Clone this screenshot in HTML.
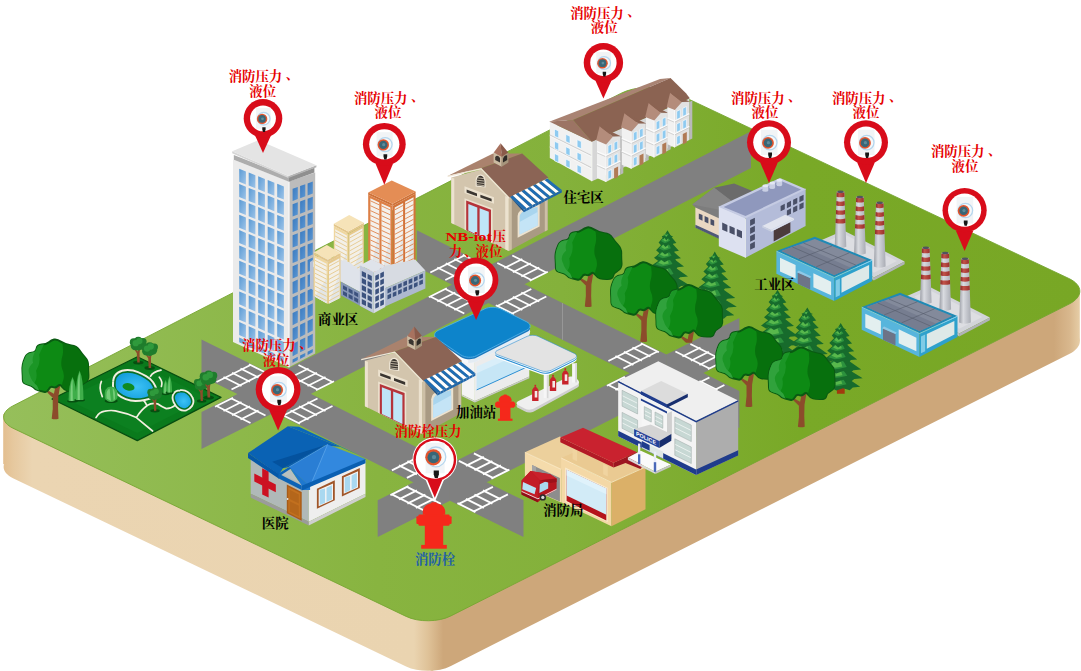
<!DOCTYPE html>
<html><head><meta charset="utf-8"><title>Fire IoT map</title>
<style>html,body{margin:0;padding:0;background:#fff;overflow:hidden}svg{display:block}text{font-family:"Liberation Mono",monospace}text.lb{font-family:"Liberation Serif","Noto Serif CJK SC",serif;font-weight:bold;font-size:13.4px}</style>
</head><body>
<svg width="1081" height="671" viewBox="0 0 1081 671">
<defs>
<linearGradient id="gtop" gradientUnits="userSpaceOnUse" x1="0" y1="0" x2="1081" y2="0">
<stop offset="0" stop-color="#96bf5b"/><stop offset="0.35" stop-color="#88b440"/><stop offset="0.52" stop-color="#84b13b"/><stop offset="0.74" stop-color="#79a927"/><stop offset="1" stop-color="#78a725"/></linearGradient>
<linearGradient id="gside" gradientUnits="userSpaceOnUse" x1="0" y1="0" x2="1081" y2="0">
<stop offset="0" stop-color="#e2bb8a"/><stop offset="0.012" stop-color="#e6c89e"/><stop offset="0.03" stop-color="#ebd5b2"/>
<stop offset="0.383" stop-color="#ead4b0"/><stop offset="0.396" stop-color="#dfc298"/><stop offset="0.41" stop-color="#cda77a"/>
<stop offset="0.975" stop-color="#cda77a"/><stop offset="0.99" stop-color="#d9b88e"/><stop offset="1" stop-color="#e8d0aa"/></linearGradient>
<radialGradient id="pondg" cx="0.55" cy="0.55" r="0.6"><stop offset="0" stop-color="#3cc2f6"/><stop offset="1" stop-color="#149fdc"/></radialGradient>
<clipPath id="crownclip"><path d="M-0.9 -79.2 Q1.9 -79.8 6.2 -76.9 Q10.6 -74.0 16.1 -73.3 Q21.6 -72.6 24.0 -68.9 Q26.3 -65.3 29.7 -61.7 Q33.1 -58.1 33.0 -53.2 Q32.9 -48.3 33.3 -43.4 Q33.7 -38.5 29.6 -36.1 Q25.4 -33.8 24.9 -30.8 Q24.4 -27.8 19.4 -27.7 Q14.4 -27.6 11.8 -28.4 Q9.3 -29.1 7.1 -32.0 Q4.9 -35.0 2.7 -32.8 Q0.6 -30.6 -2.1 -31.7 Q-4.7 -32.8 -6.4 -29.5 Q-8.2 -26.3 -10.3 -26.8 Q-12.4 -27.3 -16.1 -28.2 Q-19.7 -29.0 -21.2 -31.2 Q-22.8 -33.3 -27.5 -34.3 Q-32.3 -35.2 -32.3 -39.2 Q-32.3 -43.2 -32.6 -47.2 Q-32.9 -51.1 -32.3 -54.2 Q-31.7 -57.3 -29.9 -61.4 Q-28.2 -65.4 -23.6 -66.0 Q-19.0 -66.5 -18.5 -70.2 Q-18.1 -73.9 -13.4 -74.3 Q-8.7 -74.6 -6.2 -76.6 Q-3.7 -78.6 -0.9 -79.2 Z"/></clipPath>
<g id="crown"><path d="M-0.9 -79.2 Q1.9 -79.8 6.2 -76.9 Q10.6 -74.0 16.1 -73.3 Q21.6 -72.6 24.0 -68.9 Q26.3 -65.3 29.7 -61.7 Q33.1 -58.1 33.0 -53.2 Q32.9 -48.3 33.3 -43.4 Q33.7 -38.5 29.6 -36.1 Q25.4 -33.8 24.9 -30.8 Q24.4 -27.8 19.4 -27.7 Q14.4 -27.6 11.8 -28.4 Q9.3 -29.1 7.1 -32.0 Q4.9 -35.0 2.7 -32.8 Q0.6 -30.6 -2.1 -31.7 Q-4.7 -32.8 -6.4 -29.5 Q-8.2 -26.3 -10.3 -26.8 Q-12.4 -27.3 -16.1 -28.2 Q-19.7 -29.0 -21.2 -31.2 Q-22.8 -33.3 -27.5 -34.3 Q-32.3 -35.2 -32.3 -39.2 Q-32.3 -43.2 -32.6 -47.2 Q-32.9 -51.1 -32.3 -54.2 Q-31.7 -57.3 -29.9 -61.4 Q-28.2 -65.4 -23.6 -66.0 Q-19.0 -66.5 -18.5 -70.2 Q-18.1 -73.9 -13.4 -74.3 Q-8.7 -74.6 -6.2 -76.6 Q-3.7 -78.6 -0.9 -79.2 Z" fill="#0d8a14" stroke="#0a5a12" stroke-width="2" stroke-linejoin="round"/><g clip-path="url(#crownclip)"><path d="M-40 -85 L-7 -85 Q-12 -72 -16 -64 Q-14 -56 -19 -48 Q-17 -40 -22 -34 L-24 -20 L-40 -20 Z" fill="#1b9626"/><path d="M-40 -85 L-18 -70 Q-24 -62 -22 -56 Q-29 -50 -25 -43 Q-24 -38 -18 -33 L-14 -24 L-40 -20 Z" fill="#30a23c"/><path d="M40 -85 L5 -85 Q9 -72 7.6 -64 Q5 -56 7 -50 Q10 -44 8 -38 Q6 -34 7 -20 L40 -20 Z" fill="#07700d"/></g></g>
<linearGradient id="twl" x1="0" y1="0" x2="1" y2="1"><stop offset="0" stop-color="#5a9ad4"/><stop offset="1" stop-color="#9fc5e9"/></linearGradient>
<linearGradient id="twr" x1="0" y1="0" x2="1" y2="1"><stop offset="0" stop-color="#3a7abf"/><stop offset="1" stop-color="#5c97d3"/></linearGradient>
<linearGradient id="chg" x1="0" y1="0" x2="1" y2="0"><stop offset="0" stop-color="#9b9ea6"/><stop offset="0.35" stop-color="#d9dbe0"/><stop offset="1" stop-color="#a9acb4"/></linearGradient>
<linearGradient id="chr" x1="0" y1="0" x2="1" y2="0"><stop offset="0" stop-color="#8c2a26"/><stop offset="0.35" stop-color="#c2534a"/><stop offset="1" stop-color="#9a302b"/></linearGradient>
</defs>
<path d="M13.0 478.2 C0.6 472.2 0.5 462.3 12.7 456.0 L620.8 143.4 C635.6 135.8 659.6 135.4 674.6 142.5 L1068.9 328.5 C1083.4 335.4 1083.5 346.7 1069.2 354.0 L450.9 665.9 C438.6 672.2 418.5 672.4 406.1 666.4 Z" fill="url(#gside)"/>
<polygon points="3.2,414 3.2,464.0 432,671.0 1079.8,341.0 1079.8,291" fill="url(#gside)"/>
<path d="M13.0 428.2 C0.6 422.2 0.5 412.3 12.7 406.0 L620.8 93.4 C635.6 85.8 659.6 85.4 674.6 92.5 L1068.9 278.5 C1083.4 285.4 1083.5 296.7 1069.2 304.0 L450.9 615.9 C438.6 622.2 418.5 622.4 406.1 616.4 Z" fill="url(#gtop)" stroke="#76a632" stroke-width="0.9"/>
<polygon points="201.5,339.5 274.5,375.6 274.5,412.4 201.5,376.3" fill="#808080" />
<polygon points="201.5,412.1 274.5,375.6 274.5,412.4 201.5,448.9" fill="#808080" />
<polygon points="274.5,375.6 488.3,266.1 488.3,302.9 274.5,412.4" fill="#808080" />
<polygon points="274.5,375.6 449.9,464.0 449.9,500.8 274.5,412.4" fill="#808080" />
<polygon points="377.7,500.3 449.9,464.0 449.9,500.8 377.7,537.1" fill="#808080" />
<polygon points="449.9,464.0 523.5,500.3 523.5,537.1 449.9,500.8" fill="#808080" />
<polygon points="449.9,464.0 666.4,354.6 666.4,391.4 449.9,500.8" fill="#808080" />
<polygon points="416.9,230.2 488.3,266.1 488.3,302.9 416.9,267.0" fill="#808080" />
<polygon points="488.3,266.1 751.0,131.2 751.0,168.0 488.3,302.9" fill="#808080" />
<polygon points="488.3,266.1 666.4,354.6 666.4,391.4 488.3,302.9" fill="#808080" />
<polygon points="666.4,354.6 739.4,318.1 739.4,354.9 666.4,391.4" fill="#808080" />
<polygon points="666.4,354.6 739.4,391.1 739.4,427.9 666.4,391.4" fill="#808080" />
<polyline points="562.5,303.0 562.5,339.8" fill="none" stroke="#9a9a9a" stroke-width="0.9" />
<polyline points="283.5,372.5 317.5,389.5" fill="none" stroke="#ffffff" stroke-width="1.8" />
<polyline points="298.5,365.0 332.5,382.0" fill="none" stroke="#ffffff" stroke-width="1.8" />
<polyline points="290.5,377.5 308.5,368.5" fill="none" stroke="#ffffff" stroke-width="1.8" />
<polyline points="299.0,381.8 317.0,372.8" fill="none" stroke="#ffffff" stroke-width="1.8" />
<polyline points="307.5,386.0 325.5,377.0" fill="none" stroke="#ffffff" stroke-width="1.8" />
<polyline points="316.0,390.2 334.0,381.2" fill="none" stroke="#ffffff" stroke-width="1.8" />
<polyline points="283.5,415.5 317.5,398.5" fill="none" stroke="#ffffff" stroke-width="1.8" />
<polyline points="298.5,423.0 332.5,406.0" fill="none" stroke="#ffffff" stroke-width="1.8" />
<polyline points="282.0,414.8 300.0,423.8" fill="none" stroke="#ffffff" stroke-width="1.8" />
<polyline points="290.5,410.5 308.5,419.5" fill="none" stroke="#ffffff" stroke-width="1.8" />
<polyline points="299.0,406.2 317.0,415.2" fill="none" stroke="#ffffff" stroke-width="1.8" />
<polyline points="307.5,402.0 325.5,411.0" fill="none" stroke="#ffffff" stroke-width="1.8" />
<polyline points="231.5,389.5 265.5,372.5" fill="none" stroke="#ffffff" stroke-width="1.8" />
<polyline points="216.5,382.0 250.5,365.0" fill="none" stroke="#ffffff" stroke-width="1.8" />
<polyline points="241.5,386.0 223.5,377.0" fill="none" stroke="#ffffff" stroke-width="1.8" />
<polyline points="250.0,381.8 232.0,372.8" fill="none" stroke="#ffffff" stroke-width="1.8" />
<polyline points="258.5,377.5 240.5,368.5" fill="none" stroke="#ffffff" stroke-width="1.8" />
<polyline points="267.0,373.2 249.0,364.2" fill="none" stroke="#ffffff" stroke-width="1.8" />
<polyline points="231.5,398.5 265.5,415.5" fill="none" stroke="#ffffff" stroke-width="1.8" />
<polyline points="216.5,406.0 250.5,423.0" fill="none" stroke="#ffffff" stroke-width="1.8" />
<polyline points="233.0,397.8 215.0,406.8" fill="none" stroke="#ffffff" stroke-width="1.8" />
<polyline points="241.5,402.0 223.5,411.0" fill="none" stroke="#ffffff" stroke-width="1.8" />
<polyline points="250.0,406.2 232.0,415.2" fill="none" stroke="#ffffff" stroke-width="1.8" />
<polyline points="258.5,410.5 240.5,419.5" fill="none" stroke="#ffffff" stroke-width="1.8" />
<polyline points="458.9,460.9 492.9,477.9" fill="none" stroke="#ffffff" stroke-width="1.8" />
<polyline points="473.9,453.4 507.9,470.4" fill="none" stroke="#ffffff" stroke-width="1.8" />
<polyline points="465.9,465.9 483.9,456.9" fill="none" stroke="#ffffff" stroke-width="1.8" />
<polyline points="474.4,470.1 492.4,461.1" fill="none" stroke="#ffffff" stroke-width="1.8" />
<polyline points="482.9,474.4 500.9,465.4" fill="none" stroke="#ffffff" stroke-width="1.8" />
<polyline points="491.4,478.6 509.4,469.6" fill="none" stroke="#ffffff" stroke-width="1.8" />
<polyline points="458.9,503.9 492.9,486.9" fill="none" stroke="#ffffff" stroke-width="1.8" />
<polyline points="473.9,511.4 507.9,494.4" fill="none" stroke="#ffffff" stroke-width="1.8" />
<polyline points="457.4,503.1 475.4,512.1" fill="none" stroke="#ffffff" stroke-width="1.8" />
<polyline points="465.9,498.9 483.9,507.9" fill="none" stroke="#ffffff" stroke-width="1.8" />
<polyline points="474.4,494.6 492.4,503.6" fill="none" stroke="#ffffff" stroke-width="1.8" />
<polyline points="482.9,490.4 500.9,499.4" fill="none" stroke="#ffffff" stroke-width="1.8" />
<polyline points="406.9,477.9 440.9,460.9" fill="none" stroke="#ffffff" stroke-width="1.8" />
<polyline points="391.9,470.4 425.9,453.4" fill="none" stroke="#ffffff" stroke-width="1.8" />
<polyline points="416.9,474.4 398.9,465.4" fill="none" stroke="#ffffff" stroke-width="1.8" />
<polyline points="425.4,470.1 407.4,461.1" fill="none" stroke="#ffffff" stroke-width="1.8" />
<polyline points="433.9,465.9 415.9,456.9" fill="none" stroke="#ffffff" stroke-width="1.8" />
<polyline points="442.4,461.6 424.4,452.6" fill="none" stroke="#ffffff" stroke-width="1.8" />
<polyline points="406.9,486.9 440.9,503.9" fill="none" stroke="#ffffff" stroke-width="1.8" />
<polyline points="391.9,494.4 425.9,511.4" fill="none" stroke="#ffffff" stroke-width="1.8" />
<polyline points="408.4,486.1 390.4,495.1" fill="none" stroke="#ffffff" stroke-width="1.8" />
<polyline points="416.9,490.4 398.9,499.4" fill="none" stroke="#ffffff" stroke-width="1.8" />
<polyline points="425.4,494.6 407.4,503.6" fill="none" stroke="#ffffff" stroke-width="1.8" />
<polyline points="433.9,498.9 415.9,507.9" fill="none" stroke="#ffffff" stroke-width="1.8" />
<polyline points="497.3,263.0 531.3,280.0" fill="none" stroke="#ffffff" stroke-width="1.8" />
<polyline points="512.3,255.5 546.3,272.5" fill="none" stroke="#ffffff" stroke-width="1.8" />
<polyline points="504.3,268.0 522.3,259.0" fill="none" stroke="#ffffff" stroke-width="1.8" />
<polyline points="512.8,272.2 530.8,263.2" fill="none" stroke="#ffffff" stroke-width="1.8" />
<polyline points="521.3,276.5 539.3,267.5" fill="none" stroke="#ffffff" stroke-width="1.8" />
<polyline points="529.8,280.8 547.8,271.8" fill="none" stroke="#ffffff" stroke-width="1.8" />
<polyline points="497.3,306.0 531.3,289.0" fill="none" stroke="#ffffff" stroke-width="1.8" />
<polyline points="512.3,313.5 546.3,296.5" fill="none" stroke="#ffffff" stroke-width="1.8" />
<polyline points="495.8,305.2 513.8,314.2" fill="none" stroke="#ffffff" stroke-width="1.8" />
<polyline points="504.3,301.0 522.3,310.0" fill="none" stroke="#ffffff" stroke-width="1.8" />
<polyline points="512.8,296.8 530.8,305.8" fill="none" stroke="#ffffff" stroke-width="1.8" />
<polyline points="521.3,292.5 539.3,301.5" fill="none" stroke="#ffffff" stroke-width="1.8" />
<polyline points="445.3,280.0 479.3,263.0" fill="none" stroke="#ffffff" stroke-width="1.8" />
<polyline points="430.3,272.5 464.3,255.5" fill="none" stroke="#ffffff" stroke-width="1.8" />
<polyline points="455.3,276.5 437.3,267.5" fill="none" stroke="#ffffff" stroke-width="1.8" />
<polyline points="463.8,272.2 445.8,263.2" fill="none" stroke="#ffffff" stroke-width="1.8" />
<polyline points="472.3,268.0 454.3,259.0" fill="none" stroke="#ffffff" stroke-width="1.8" />
<polyline points="480.8,263.8 462.8,254.8" fill="none" stroke="#ffffff" stroke-width="1.8" />
<polyline points="445.3,289.0 479.3,306.0" fill="none" stroke="#ffffff" stroke-width="1.8" />
<polyline points="430.3,296.5 464.3,313.5" fill="none" stroke="#ffffff" stroke-width="1.8" />
<polyline points="446.8,288.2 428.8,297.2" fill="none" stroke="#ffffff" stroke-width="1.8" />
<polyline points="455.3,292.5 437.3,301.5" fill="none" stroke="#ffffff" stroke-width="1.8" />
<polyline points="463.8,296.8 445.8,305.8" fill="none" stroke="#ffffff" stroke-width="1.8" />
<polyline points="472.3,301.0 454.3,310.0" fill="none" stroke="#ffffff" stroke-width="1.8" />
<polyline points="675.4,351.5 709.4,368.5" fill="none" stroke="#ffffff" stroke-width="1.8" />
<polyline points="690.4,344.0 724.4,361.0" fill="none" stroke="#ffffff" stroke-width="1.8" />
<polyline points="682.4,356.5 700.4,347.5" fill="none" stroke="#ffffff" stroke-width="1.8" />
<polyline points="690.9,360.8 708.9,351.8" fill="none" stroke="#ffffff" stroke-width="1.8" />
<polyline points="699.4,365.0 717.4,356.0" fill="none" stroke="#ffffff" stroke-width="1.8" />
<polyline points="707.9,369.2 725.9,360.2" fill="none" stroke="#ffffff" stroke-width="1.8" />
<polyline points="675.4,394.5 709.4,377.5" fill="none" stroke="#ffffff" stroke-width="1.8" />
<polyline points="690.4,402.0 724.4,385.0" fill="none" stroke="#ffffff" stroke-width="1.8" />
<polyline points="673.9,393.8 691.9,402.8" fill="none" stroke="#ffffff" stroke-width="1.8" />
<polyline points="682.4,389.5 700.4,398.5" fill="none" stroke="#ffffff" stroke-width="1.8" />
<polyline points="690.9,385.2 708.9,394.2" fill="none" stroke="#ffffff" stroke-width="1.8" />
<polyline points="699.4,381.0 717.4,390.0" fill="none" stroke="#ffffff" stroke-width="1.8" />
<polyline points="623.4,368.5 657.4,351.5" fill="none" stroke="#ffffff" stroke-width="1.8" />
<polyline points="608.4,361.0 642.4,344.0" fill="none" stroke="#ffffff" stroke-width="1.8" />
<polyline points="633.4,365.0 615.4,356.0" fill="none" stroke="#ffffff" stroke-width="1.8" />
<polyline points="641.9,360.8 623.9,351.8" fill="none" stroke="#ffffff" stroke-width="1.8" />
<polyline points="650.4,356.5 632.4,347.5" fill="none" stroke="#ffffff" stroke-width="1.8" />
<polyline points="658.9,352.2 640.9,343.2" fill="none" stroke="#ffffff" stroke-width="1.8" />
<polyline points="623.4,377.5 657.4,394.5" fill="none" stroke="#ffffff" stroke-width="1.8" />
<polyline points="608.4,385.0 642.4,402.0" fill="none" stroke="#ffffff" stroke-width="1.8" />
<polyline points="624.9,376.8 606.9,385.8" fill="none" stroke="#ffffff" stroke-width="1.8" />
<polyline points="633.4,381.0 615.4,390.0" fill="none" stroke="#ffffff" stroke-width="1.8" />
<polyline points="641.9,385.2 623.9,394.2" fill="none" stroke="#ffffff" stroke-width="1.8" />
<polyline points="650.4,389.5 632.4,398.5" fill="none" stroke="#ffffff" stroke-width="1.8" />
<polygon points="52.0,399.0 137.4,356.8 221.0,397.4 137.3,440.6" fill="#0a7a1c" stroke="#064d10" stroke-width="1.2" stroke-linejoin="round" />
<polygon points="66.0,399.0 137.4,364.0 207.0,397.4 137.3,433.0" fill="#0c8020" />
<clipPath id="parkclip"><polygon points="52.0,399.0 137.4,356.8 221.0,397.4 137.3,440.6"/></clipPath>
<g clip-path="url(#parkclip)">
<path d="M96 417.6 Q99 412 104.8 411.2 Q110 410 115.3 410.8 Q127 413 136.4 417.6 L152.6 431 M136.4 417.6 Q141 410 147 405.8 Q146 403 143.4 400.2 M147 405.4 Q152 402.6 157.5 403.8 Q162 407 166.3 408.6 Q171 408.6 175.1 405.3 M101.4 381.4 Q98.4 387.7 102.3 396.7 M150.5 376.3 Q153 372 161 370.2 M159.3 377.2 Q163 381.6 161.4 386.5" stroke="#f3efe0" stroke-width="1.7" fill="none" stroke-linecap="round"/>
</g>
<path d="M116.2 388.2 Q115.3 386.0 115.8 381.6 Q116.2 377.2 119.2 375.0 Q122.3 372.8 127.6 372.8 Q132.9 372.8 136.9 374.6 Q140.8 376.3 144.8 378.5 Q148.7 380.7 150.9 383.8 Q153.1 386.9 153.6 389.9 Q154.0 393.0 151.3 394.8 Q148.7 396.5 144.3 397.4 Q139.9 398.3 135.5 398.3 Q131.1 398.3 126.7 396.6 Q122.3 394.8 119.7 392.6 Q117.1 390.4 116.2 388.2 Z" fill="#f3efe0" stroke="#f3efe0" stroke-width="7.4" stroke-linejoin="round"/>
<path d="M116.2 388.2 Q115.3 386.0 115.8 381.6 Q116.2 377.2 119.2 375.0 Q122.3 372.8 127.6 372.8 Q132.9 372.8 136.9 374.6 Q140.8 376.3 144.8 378.5 Q148.7 380.7 150.9 383.8 Q153.1 386.9 153.6 389.9 Q154.0 393.0 151.3 394.8 Q148.7 396.5 144.3 397.4 Q139.9 398.3 135.5 398.3 Q131.1 398.3 126.7 396.6 Q122.3 394.8 119.7 392.6 Q117.1 390.4 116.2 388.2 Z" fill="url(#pondg)" stroke="#0a6f24" stroke-width="3.4" stroke-linejoin="round"/>
<path d="M116.2 388.2 Q115.3 386.0 115.8 381.6 Q116.2 377.2 119.2 375.0 Q122.3 372.8 127.6 372.8 Q132.9 372.8 136.9 374.6 Q140.8 376.3 144.8 378.5 Q148.7 380.7 150.9 383.8 Q153.1 386.9 153.6 389.9 Q154.0 393.0 151.3 394.8 Q148.7 396.5 144.3 397.4 Q139.9 398.3 135.5 398.3 Q131.1 398.3 126.7 396.6 Q122.3 394.8 119.7 392.6 Q117.1 390.4 116.2 388.2 Z" fill="url(#pondg)"/>
<ellipse cx="128.5" cy="386.9" rx="6.1" ry="3.7" fill="#0f8a22" transform="rotate(12 128.5 386.9)"/>
<path d="M175.9 401.4 Q174.2 397.4 175.5 395.2 Q176.8 393.0 180.4 392.6 Q183.9 392.1 186.5 393.9 Q189.1 395.6 190.4 398.7 Q191.8 401.8 190.1 404.5 Q188.3 407.1 185.7 408.0 Q183.0 408.8 180.3 407.1 Q177.7 405.3 175.9 401.4 Z" fill="#f3efe0" stroke="#f3efe0" stroke-width="6.6" stroke-linejoin="round"/>
<path d="M175.9 401.4 Q174.2 397.4 175.5 395.2 Q176.8 393.0 180.4 392.6 Q183.9 392.1 186.5 393.9 Q189.1 395.6 190.4 398.7 Q191.8 401.8 190.1 404.5 Q188.3 407.1 185.7 408.0 Q183.0 408.8 180.3 407.1 Q177.7 405.3 175.9 401.4 Z" fill="url(#pondg)" stroke="#0a6f24" stroke-width="3" stroke-linejoin="round"/>
<path d="M175.9 401.4 Q174.2 397.4 175.5 395.2 Q176.8 393.0 180.4 392.6 Q183.9 392.1 186.5 393.9 Q189.1 395.6 190.4 398.7 Q191.8 401.8 190.1 404.5 Q188.3 407.1 185.7 408.0 Q183.0 408.8 180.3 407.1 Q177.7 405.3 175.9 401.4 Z" fill="url(#pondg)"/>
<g transform="translate(55.1 418.8) scale(1.000)">
<path d="M-3.4 0 Q-1.8 -10 -2.4 -21 L-7.8 -26.4 L-6.6 -28 L-1.2 -25 L1.2 -36 L5.6 -36 L3.2 -22 Q2.6 -10 3.4 0 Q0 1 -3.4 0 Z" fill="#8c4c2b"/>
<use href="#crown"/>
</g>
<ellipse cx="72.5" cy="401.0" rx="5.4" ry="1.6" fill="#064f10"/>
<path d="M68.6 401.0 Q68.6 384.2 72.5 377.0 Q76.4 384.2 76.4 401.0 Z" fill="#3fae4a"/>
<path d="M70.5 401.0 Q70.2 384.2 72.5 378.5 L72.8 401.0 Z" fill="#79cf7c"/>
<ellipse cx="79.6" cy="400.0" rx="5.4" ry="1.6" fill="#064f10"/>
<path d="M75.7 400.0 Q75.7 379.4 79.6 370.5 Q83.5 379.4 83.5 400.0 Z" fill="#3fae4a"/>
<path d="M77.6 400.0 Q77.3 379.4 79.6 372.0 L79.9 400.0 Z" fill="#79cf7c"/>
<ellipse cx="165.6" cy="393.6" rx="4.0" ry="1.6" fill="#064f10"/>
<path d="M163.1 393.6 Q163.1 384.2 165.6 380.1 Q168.1 384.2 168.1 393.6 Z" fill="#3fae4a"/>
<path d="M164.3 393.6 Q164.1 384.2 165.6 381.6 L165.9 393.6 Z" fill="#79cf7c"/>
<ellipse cx="169.6" cy="392.6" rx="4.0" ry="1.6" fill="#064f10"/>
<path d="M167.1 392.6 Q167.1 381.1 169.6 376.1 Q172.1 381.1 172.1 392.6 Z" fill="#3fae4a"/>
<path d="M168.3 392.6 Q168.1 381.1 169.6 377.6 L169.9 392.6 Z" fill="#79cf7c"/>
<ellipse cx="111.2" cy="401" rx="6.6" ry="2" fill="#064f10"/>
<path d="M104.8 398 Q103.6 387 111 386.6 Q118.6 387 117.4 398 Q115 402 111 402 Q107 402 104.8 398 Z" fill="#3fae4a"/>
<path d="M106.6 398.6 Q105.6 390 109.6 388.4 L111 401 Z M112.6 388 Q115.6 390 115 399 L113.6 400.6 Z" fill="#74cc78"/>
<g transform="translate(138.3 362.6) scale(1.05)">
<ellipse cx="0" cy="0" rx="5" ry="1.8" fill="#064f10"/>
<path d="M-1 0 L-1.4 -9 L-4 -13 L-3 -13.6 L-0.6 -10.6 L0.6 -14 L1.8 -14 L1.2 -9 L1.4 0 Z" fill="#8c4c2b"/>
<circle cx="-3.0" cy="-16.0" r="4.2" fill="#1f7d2c"/>
<circle cx="2.5" cy="-17.0" r="4.6" fill="#1f7d2c"/>
<circle cx="0.0" cy="-20.0" r="4.6" fill="#1f7d2c"/>
<circle cx="-4.5" cy="-19.5" r="3.6" fill="#1f7d2c"/>
<circle cx="4.5" cy="-20.0" r="3.4" fill="#1f7d2c"/>
<circle cx="0.0" cy="-15.0" r="3.5" fill="#1f7d2c"/>
<circle cx="-2.5" cy="-18.5" r="3.0" fill="#2f9a3c"/>
<circle cx="1.0" cy="-20.5" r="3.0" fill="#2f9a3c"/>
</g>
<g transform="translate(149.7 368.0) scale(1.05)">
<ellipse cx="0" cy="0" rx="5" ry="1.8" fill="#064f10"/>
<path d="M-1 0 L-1.4 -9 L-4 -13 L-3 -13.6 L-0.6 -10.6 L0.6 -14 L1.8 -14 L1.2 -9 L1.4 0 Z" fill="#8c4c2b"/>
<circle cx="-3.0" cy="-16.0" r="4.2" fill="#1f7d2c"/>
<circle cx="2.5" cy="-17.0" r="4.6" fill="#1f7d2c"/>
<circle cx="0.0" cy="-20.0" r="4.6" fill="#1f7d2c"/>
<circle cx="-4.5" cy="-19.5" r="3.6" fill="#1f7d2c"/>
<circle cx="4.5" cy="-20.0" r="3.4" fill="#1f7d2c"/>
<circle cx="0.0" cy="-15.0" r="3.5" fill="#1f7d2c"/>
<circle cx="-2.5" cy="-18.5" r="3.0" fill="#2f9a3c"/>
<circle cx="1.0" cy="-20.5" r="3.0" fill="#2f9a3c"/>
</g>
<g transform="translate(155.0 410.8) scale(0.95)">
<ellipse cx="0" cy="0" rx="5" ry="1.8" fill="#064f10"/>
<path d="M-1 0 L-1.4 -9 L-4 -13 L-3 -13.6 L-0.6 -10.6 L0.6 -14 L1.8 -14 L1.2 -9 L1.4 0 Z" fill="#8c4c2b"/>
<circle cx="-3.0" cy="-16.0" r="4.2" fill="#1f7d2c"/>
<circle cx="2.5" cy="-17.0" r="4.6" fill="#1f7d2c"/>
<circle cx="0.0" cy="-20.0" r="4.6" fill="#1f7d2c"/>
<circle cx="-4.5" cy="-19.5" r="3.6" fill="#1f7d2c"/>
<circle cx="4.5" cy="-20.0" r="3.4" fill="#1f7d2c"/>
<circle cx="0.0" cy="-15.0" r="3.5" fill="#1f7d2c"/>
<circle cx="-2.5" cy="-18.5" r="3.0" fill="#2f9a3c"/>
<circle cx="1.0" cy="-20.5" r="3.0" fill="#2f9a3c"/>
</g>
<g transform="translate(201.6 401.0) scale(0.95)">
<ellipse cx="0" cy="0" rx="5" ry="1.8" fill="#064f10"/>
<path d="M-1 0 L-1.4 -9 L-4 -13 L-3 -13.6 L-0.6 -10.6 L0.6 -14 L1.8 -14 L1.2 -9 L1.4 0 Z" fill="#8c4c2b"/>
<circle cx="-3.0" cy="-16.0" r="4.2" fill="#1f7d2c"/>
<circle cx="2.5" cy="-17.0" r="4.6" fill="#1f7d2c"/>
<circle cx="0.0" cy="-20.0" r="4.6" fill="#1f7d2c"/>
<circle cx="-4.5" cy="-19.5" r="3.6" fill="#1f7d2c"/>
<circle cx="4.5" cy="-20.0" r="3.4" fill="#1f7d2c"/>
<circle cx="0.0" cy="-15.0" r="3.5" fill="#1f7d2c"/>
<circle cx="-2.5" cy="-18.5" r="3.0" fill="#2f9a3c"/>
<circle cx="1.0" cy="-20.5" r="3.0" fill="#2f9a3c"/>
</g>
<g transform="translate(208.6 397.6) scale(1.10)">
<ellipse cx="0" cy="0" rx="5" ry="1.8" fill="#064f10"/>
<path d="M-1 0 L-1.4 -9 L-4 -13 L-3 -13.6 L-0.6 -10.6 L0.6 -14 L1.8 -14 L1.2 -9 L1.4 0 Z" fill="#8c4c2b"/>
<circle cx="-3.0" cy="-16.0" r="4.2" fill="#1f7d2c"/>
<circle cx="2.5" cy="-17.0" r="4.6" fill="#1f7d2c"/>
<circle cx="0.0" cy="-20.0" r="4.6" fill="#1f7d2c"/>
<circle cx="-4.5" cy="-19.5" r="3.6" fill="#1f7d2c"/>
<circle cx="4.5" cy="-20.0" r="3.4" fill="#1f7d2c"/>
<circle cx="0.0" cy="-15.0" r="3.5" fill="#1f7d2c"/>
<circle cx="-2.5" cy="-18.5" r="3.0" fill="#2f9a3c"/>
<circle cx="1.0" cy="-20.5" r="3.0" fill="#2f9a3c"/>
</g>
<polygon points="591.8,141.5 689.3,98.6 689.3,138.8 591.8,181.2" fill="#d6d6d6" />
<polygon points="549.8,121.8 591.8,141.5 591.8,181.2 549.8,158.0" fill="#f1f1f1" />
<polyline points="549.8,135.0 591.8,155.8" fill="none" stroke="#cfcfcf" stroke-width="1.1" />
<polyline points="549.8,136.0 591.8,156.8" fill="none" stroke="#fafafa" stroke-width="0.8" />
<polyline points="549.8,146.4 591.8,168.1" fill="none" stroke="#cfcfcf" stroke-width="1.1" />
<polyline points="549.8,147.4 591.8,169.1" fill="none" stroke="#fafafa" stroke-width="0.8" />
<g fill="#8ecaf0" stroke="#fff" stroke-width="0.6"><polygon points="554.5,129.0 558.7,131.0 558.7,138.2 554.5,136.2"/><polygon points="565.8,134.3 570.0,136.3 570.0,143.5 565.8,141.5"/><polygon points="577.1,139.6 581.3,141.6 581.3,148.8 577.1,146.8"/><polygon points="554.5,141.3 558.7,143.3 558.7,150.5 554.5,148.5"/><polygon points="565.8,146.7 570.0,148.7 570.0,155.9 565.8,153.9"/><polygon points="577.1,152.2 581.3,154.2 581.3,161.4 577.1,159.4"/><polygon points="554.5,153.5 558.7,155.5 558.7,162.7 554.5,160.7"/><polygon points="565.8,159.1 570.0,161.1 570.0,168.3 565.8,166.3"/><polygon points="577.1,164.7 581.3,166.7 581.3,173.9 577.1,171.9"/></g>
<polyline points="591.8,141.5 591.8,181.2" fill="none" stroke="#fafafa" stroke-width="1" />
<polygon points="549.8,121.5 573.0,120.0 670.5,78.0 660.0,79.0" fill="#a98373" />
<polygon points="573.0,120.0 670.5,78.0 686.0,93.2 689.8,98.2 591.8,141.8" fill="#8b6352" />
<polygon points="549.2,121.6 573.0,120.0 592.2,142.0" fill="#9c7464" />
<polygon points="597.0,139.9 605.8,143.8 605.8,182.0 597.0,178.1" fill="#f1f1f1" />
<polygon points="605.8,143.8 613.0,136.8 620.3,136.6 620.3,174.8 605.8,182.0" fill="#e2e2e2" />
<polygon points="620.3,136.6 623.3,135.1 623.3,173.2 620.3,174.8" fill="#b9b9b9" />
<polyline points="597.0,151.7 605.8,155.5 620.3,148.3" fill="none" stroke="#fbfbfb" stroke-width="1.4" />
<polyline points="597.0,152.9 605.8,156.7 620.3,149.5" fill="none" stroke="#c4c4c4" stroke-width="0.7" />
<polyline points="597.0,164.4 605.8,168.3 620.3,161.0" fill="none" stroke="#fbfbfb" stroke-width="1.4" />
<polyline points="597.0,165.6 605.8,169.5 620.3,162.2" fill="none" stroke="#c4c4c4" stroke-width="0.7" />
<polygon points="614.1,168.6 618.1,166.6 618.1,176.9 614.1,178.9" fill="#b07a55"/>
<g fill="#8ecaf0" stroke="#fff" stroke-width="0.6"><polygon points="608.0,145.7 611.6,143.9 611.6,152.1 608.0,153.9"/><polygon points="614.1,142.6 617.7,140.8 617.7,149.0 614.1,150.8"/><polygon points="608.0,158.4 611.6,156.6 611.6,164.8 608.0,166.6"/><polygon points="614.1,155.4 617.7,153.6 617.7,161.8 614.1,163.6"/><polygon points="608.0,171.2 611.6,169.4 611.6,177.6 608.0,179.4"/></g>
<polyline points="605.8,143.8 605.8,182.0" fill="none" stroke="#fbfbfb" stroke-width="0.9" />
<polygon points="596.2,140.3 599.6,126.3 613.0,136.4 606.1,144.4" fill="#b48c7b" />
<polygon points="613.0,136.4 599.6,126.3 620.9,136.2" fill="#8b6352" />
<polygon points="621.8,126.8 631.2,130.9 631.2,168.8 621.8,164.7" fill="#f1f1f1" />
<polygon points="631.2,130.9 638.5,123.9 645.7,123.7 645.7,161.6 631.2,168.8" fill="#e2e2e2" />
<polygon points="645.7,123.7 648.7,122.2 648.7,160.1 645.7,161.6" fill="#b9b9b9" />
<polyline points="621.8,138.4 631.2,142.5 645.7,135.3" fill="none" stroke="#fbfbfb" stroke-width="1.4" />
<polyline points="621.8,139.6 631.2,143.7 645.7,136.5" fill="none" stroke="#c4c4c4" stroke-width="0.7" />
<polyline points="621.8,151.0 631.2,155.2 645.7,147.9" fill="none" stroke="#fbfbfb" stroke-width="1.4" />
<polyline points="621.8,152.2 631.2,156.4 645.7,149.1" fill="none" stroke="#c4c4c4" stroke-width="0.7" />
<polygon points="639.5,155.5 643.5,153.5 643.5,163.8 639.5,165.8" fill="#b07a55"/>
<g fill="#8ecaf0" stroke="#fff" stroke-width="0.6"><polygon points="633.4,132.8 637.0,131.0 637.0,139.2 633.4,141.0"/><polygon points="639.5,129.7 643.1,127.9 643.1,136.1 639.5,137.9"/><polygon points="633.4,145.4 637.0,143.6 637.0,151.8 633.4,153.6"/><polygon points="639.5,142.4 643.1,140.6 643.1,148.8 639.5,150.6"/><polygon points="633.4,158.1 637.0,156.3 637.0,164.5 633.4,166.3"/></g>
<polyline points="631.2,130.9 631.2,168.8" fill="none" stroke="#fbfbfb" stroke-width="0.9" />
<polygon points="621.0,127.2 624.4,113.2 638.5,123.5 631.5,131.5" fill="#b48c7b" />
<polygon points="638.5,123.5 624.4,113.2 646.3,123.4" fill="#8b6352" />
<polygon points="646.0,116.5 654.0,120.0 654.0,157.5 646.0,154.0" fill="#f1f1f1" />
<polygon points="654.0,120.0 660.9,113.2 667.7,113.2 667.7,150.7 654.0,157.5" fill="#e2e2e2" />
<polygon points="667.7,113.2 670.7,111.7 670.7,149.2 667.7,150.7" fill="#b9b9b9" />
<polyline points="646.0,128.0 654.0,131.5 667.7,124.7" fill="none" stroke="#fbfbfb" stroke-width="1.4" />
<polyline points="646.0,129.2 654.0,132.7 667.7,125.9" fill="none" stroke="#c4c4c4" stroke-width="0.7" />
<polyline points="646.0,140.5 654.0,144.0 667.7,137.2" fill="none" stroke="#fbfbfb" stroke-width="1.4" />
<polyline points="646.0,141.7 654.0,145.2 667.7,138.3" fill="none" stroke="#c4c4c4" stroke-width="0.7" />
<polygon points="662.3,144.3 666.3,142.3 666.3,152.6 662.3,154.6" fill="#b07a55"/>
<g fill="#8ecaf0" stroke="#fff" stroke-width="0.6"><polygon points="656.2,121.9 659.8,120.1 659.8,128.3 656.2,130.1"/><polygon points="662.3,118.8 665.9,117.0 665.9,125.2 662.3,127.0"/><polygon points="656.2,134.4 659.8,132.6 659.8,140.8 656.2,142.6"/><polygon points="662.3,131.3 665.9,129.5 665.9,137.7 662.3,139.5"/><polygon points="656.2,146.9 659.8,145.1 659.8,153.3 656.2,155.1"/></g>
<polyline points="654.0,120.0 654.0,157.5" fill="none" stroke="#fbfbfb" stroke-width="0.9" />
<polygon points="645.2,116.9 648.6,102.9 660.9,112.8 654.3,120.6" fill="#b48c7b" />
<polygon points="660.9,112.8 648.6,102.9 668.3,112.9" fill="#8b6352" />
<polygon points="667.5,106.4 674.5,109.5 674.5,147.4 667.5,144.3" fill="#f1f1f1" />
<polygon points="674.5,109.5 681.9,102.4 689.3,102.1 689.3,140.0 674.5,147.4" fill="#e2e2e2" />
<polygon points="689.3,102.1 692.3,100.6 692.3,138.5 689.3,140.0" fill="#b9b9b9" />
<polyline points="667.5,118.1 674.5,121.1 689.3,113.7" fill="none" stroke="#fbfbfb" stroke-width="1.4" />
<polyline points="667.5,119.3 674.5,122.3 689.3,114.9" fill="none" stroke="#c4c4c4" stroke-width="0.7" />
<polyline points="667.5,130.7 674.5,133.8 689.3,126.4" fill="none" stroke="#fbfbfb" stroke-width="1.4" />
<polyline points="667.5,131.9 674.5,135.0 689.3,127.6" fill="none" stroke="#c4c4c4" stroke-width="0.7" />
<polygon points="682.8,134.1 686.8,132.1 686.8,142.4 682.8,144.4" fill="#b07a55"/>
<g fill="#8ecaf0" stroke="#fff" stroke-width="0.6"><polygon points="676.7,111.4 680.3,109.6 680.3,117.8 676.7,119.6"/><polygon points="682.8,108.3 686.4,106.5 686.4,114.7 682.8,116.5"/><polygon points="676.7,124.0 680.3,122.2 680.3,130.4 676.7,132.2"/><polygon points="682.8,121.0 686.4,119.2 686.4,127.4 682.8,129.2"/><polygon points="676.7,136.7 680.3,134.9 680.3,143.1 676.7,144.9"/></g>
<polyline points="674.5,109.5 674.5,147.4" fill="none" stroke="#fbfbfb" stroke-width="0.9" />
<polygon points="666.7,106.8 670.1,92.8 681.9,102.0 674.8,110.1" fill="#b48c7b" />
<polygon points="681.9,102.0 670.1,92.8 689.9,101.8" fill="#8b6352" />
<polygon points="233.0,159.5 289.0,181.6 289.0,367.3 233.0,342.0" fill="#ebebeb" />
<polygon points="289.0,181.6 315.2,172.4 315.2,353.6 289.0,367.3" fill="#bcbcbc" />
<clipPath id="twc1"><polygon points="233.0,159.5 289.0,181.6 289.0,364.8 233.0,339.5"/></clipPath>
<g fill="url(#twl)" clip-path="url(#twc1)"><polygon points="239.2,168.8 245.9,171.4 245.9,184.4 239.2,181.7"/><polygon points="248.7,172.5 255.4,175.2 255.4,188.2 248.7,185.5"/><polygon points="258.2,176.3 264.9,179.0 264.9,192.0 258.2,189.3"/><polygon points="267.7,180.1 274.4,182.7 274.4,195.8 267.7,193.1"/><polygon points="277.2,183.8 283.9,186.5 283.9,199.6 277.2,196.9"/><polygon points="239.2,184.1 245.9,186.8 245.9,199.7 239.2,197.0"/><polygon points="248.7,187.9 255.4,190.6 255.4,203.6 248.7,200.9"/><polygon points="258.2,191.7 264.9,194.4 264.9,207.4 258.2,204.7"/><polygon points="267.7,195.5 274.4,198.2 274.4,211.3 267.7,208.6"/><polygon points="277.2,199.3 283.9,202.0 283.9,215.1 277.2,212.4"/><polygon points="239.2,199.4 245.9,202.1 245.9,215.1 239.2,212.3"/><polygon points="248.7,203.3 255.4,206.0 255.4,219.0 248.7,216.2"/><polygon points="258.2,207.1 264.9,209.9 264.9,222.9 258.2,220.1"/><polygon points="267.7,211.0 274.4,213.7 274.4,226.8 267.7,224.0"/><polygon points="277.2,214.9 283.9,217.6 283.9,230.7 277.2,227.9"/><polygon points="239.2,214.7 245.9,217.5 245.9,230.5 239.2,227.7"/><polygon points="248.7,218.7 255.4,221.4 255.4,234.4 248.7,231.6"/><polygon points="258.2,222.6 264.9,225.3 264.9,238.3 258.2,235.6"/><polygon points="267.7,226.5 274.4,229.2 274.4,242.3 267.7,239.5"/><polygon points="277.2,230.4 283.9,233.1 283.9,246.2 277.2,243.5"/><polygon points="239.2,230.1 245.9,232.9 245.9,245.8 239.2,243.0"/><polygon points="248.7,234.0 255.4,236.8 255.4,249.8 248.7,247.0"/><polygon points="258.2,238.0 264.9,240.8 264.9,253.8 258.2,251.0"/><polygon points="267.7,241.9 274.4,244.7 274.4,257.8 267.7,255.0"/><polygon points="277.2,245.9 283.9,248.7 283.9,261.8 277.2,259.0"/><polygon points="239.2,245.4 245.9,248.2 245.9,261.2 239.2,258.3"/><polygon points="248.7,249.4 255.4,252.2 255.4,265.2 248.7,262.4"/><polygon points="258.2,253.4 264.9,256.2 264.9,269.2 258.2,266.4"/><polygon points="267.7,257.4 274.4,260.2 274.4,273.3 267.7,270.4"/><polygon points="277.2,261.4 283.9,264.2 283.9,277.3 277.2,274.5"/><polygon points="239.2,260.7 245.9,263.6 245.9,276.5 239.2,273.7"/><polygon points="248.7,264.8 255.4,267.6 255.4,280.6 248.7,277.7"/><polygon points="258.2,268.8 264.9,271.7 264.9,284.7 258.2,281.8"/><polygon points="267.7,272.9 274.4,275.7 274.4,288.8 267.7,285.9"/><polygon points="277.2,276.9 283.9,279.8 283.9,292.9 277.2,290.0"/><polygon points="239.2,276.1 245.9,279.0 245.9,291.9 239.2,289.0"/><polygon points="248.7,280.2 255.4,283.0 255.4,296.0 248.7,293.1"/><polygon points="258.2,284.2 264.9,287.1 264.9,300.2 258.2,297.2"/><polygon points="267.7,288.3 274.4,291.2 274.4,304.3 267.7,301.4"/><polygon points="277.2,292.4 283.9,295.3 283.9,308.4 277.2,305.5"/><polygon points="239.2,291.4 245.9,294.3 245.9,307.3 239.2,304.3"/><polygon points="248.7,295.5 255.4,298.4 255.4,311.4 248.7,308.5"/><polygon points="258.2,299.7 264.9,302.6 264.9,315.6 258.2,312.7"/><polygon points="267.7,303.8 274.4,306.7 274.4,319.8 267.7,316.8"/><polygon points="277.2,307.9 283.9,310.8 283.9,324.0 277.2,321.0"/><polygon points="239.2,306.7 245.9,309.7 245.9,322.6 239.2,319.7"/><polygon points="248.7,310.9 255.4,313.9 255.4,326.8 248.7,323.9"/><polygon points="258.2,315.1 264.9,318.0 264.9,331.1 258.2,328.1"/><polygon points="267.7,319.3 274.4,322.2 274.4,335.3 267.7,332.3"/><polygon points="277.2,323.4 283.9,326.4 283.9,339.5 277.2,336.5"/><polygon points="239.2,322.1 245.9,325.0 245.9,338.0 239.2,335.0"/><polygon points="248.7,326.3 255.4,329.3 255.4,342.3 248.7,339.2"/><polygon points="258.2,330.5 264.9,333.5 264.9,346.5 258.2,343.5"/><polygon points="267.7,334.7 274.4,337.7 274.4,350.8 267.7,347.8"/><polygon points="277.2,339.0 283.9,341.9 283.9,355.0 277.2,352.0"/><polygon points="239.2,337.4 245.9,340.4 245.9,353.4 239.2,350.3"/><polygon points="248.7,341.7 255.4,344.7 255.4,357.7 248.7,354.6"/><polygon points="258.2,345.9 264.9,348.9 264.9,362.0 258.2,358.9"/><polygon points="267.7,350.2 274.4,353.2 274.4,366.3 267.7,363.2"/><polygon points="277.2,354.5 283.9,357.5 283.9,370.6 277.2,367.5"/></g>
<clipPath id="twc2"><polygon points="289.0,181.6 315.2,172.4 315.2,351.1 289.0,364.8"/></clipPath>
<g fill="url(#twr)" clip-path="url(#twc2)"><polygon points="292.6,188.8 297.8,186.9 297.8,199.1 292.6,201.0"/><polygon points="300.1,186.1 305.3,184.2 305.3,196.3 300.1,198.2"/><polygon points="307.6,183.4 312.8,181.5 312.8,193.5 307.6,195.5"/><polygon points="292.6,204.3 297.8,202.3 297.8,214.5 292.6,216.5"/><polygon points="300.1,201.5 305.3,199.5 305.3,211.7 300.1,213.7"/><polygon points="307.6,198.7 312.8,196.7 312.8,208.8 307.6,210.8"/><polygon points="292.6,219.8 297.8,217.8 297.8,230.0 292.6,232.1"/><polygon points="300.1,216.9 305.3,214.9 305.3,227.0 300.1,229.1"/><polygon points="307.6,214.0 312.8,212.0 312.8,224.0 307.6,226.1"/><polygon points="292.6,235.3 297.8,233.2 297.8,245.4 292.6,247.6"/><polygon points="300.1,232.3 305.3,230.2 305.3,242.3 300.1,244.5"/><polygon points="307.6,229.3 312.8,227.2 312.8,239.2 307.6,241.4"/><polygon points="292.6,250.8 297.8,248.7 297.8,260.9 292.6,263.1"/><polygon points="300.1,247.7 305.3,245.5 305.3,257.7 300.1,259.9"/><polygon points="307.6,244.6 312.8,242.4 312.8,254.4 307.6,256.7"/><polygon points="292.6,266.3 297.8,264.1 297.8,276.3 292.6,278.6"/><polygon points="300.1,263.1 305.3,260.9 305.3,273.0 300.1,275.3"/><polygon points="307.6,259.9 312.8,257.6 312.8,269.7 307.6,272.0"/><polygon points="292.6,281.9 297.8,279.5 297.8,291.7 292.6,294.1"/><polygon points="300.1,278.5 305.3,276.2 305.3,288.3 300.1,290.7"/><polygon points="307.6,275.2 312.8,272.9 312.8,284.9 307.6,287.3"/><polygon points="292.6,297.4 297.8,295.0 297.8,307.2 292.6,309.6"/><polygon points="300.1,293.9 305.3,291.5 305.3,303.7 300.1,306.1"/><polygon points="307.6,290.5 312.8,288.1 312.8,300.1 307.6,302.6"/><polygon points="292.6,312.9 297.8,310.4 297.8,322.6 292.6,325.2"/><polygon points="300.1,309.3 305.3,306.9 305.3,319.0 300.1,321.5"/><polygon points="307.6,305.8 312.8,303.3 312.8,315.3 307.6,317.9"/><polygon points="292.6,328.4 297.8,325.9 297.8,338.1 292.6,340.7"/><polygon points="300.1,324.7 305.3,322.2 305.3,334.3 300.1,336.9"/><polygon points="307.6,321.1 312.8,318.5 312.8,330.6 307.6,333.2"/><polygon points="292.6,343.9 297.8,341.3 297.8,353.5 292.6,356.2"/><polygon points="300.1,340.1 305.3,337.5 305.3,349.7 300.1,352.3"/><polygon points="307.6,336.4 312.8,333.8 312.8,345.8 307.6,348.5"/><polygon points="292.6,359.4 297.8,356.7 297.8,369.0 292.6,371.7"/><polygon points="300.1,355.6 305.3,352.9 305.3,365.0 300.1,367.7"/><polygon points="307.6,351.7 312.8,349.0 312.8,361.0 307.6,363.8"/></g>
<polyline points="289.0,181.6 289.0,367.3" fill="none" stroke="#f6f6f6" stroke-width="1.3" />
<polygon points="233.8,154.9 289.0,177.0 289.0,181.8 233.8,159.7" fill="#adadad" />
<polygon points="289.0,177.0 314.4,167.8 314.4,172.6 289.0,181.8" fill="#8f8f8f" />
<polygon points="232.2,151.2 288.4,176.0 288.4,178.0 232.2,153.2" fill="#d6d6d6" />
<polygon points="288.4,176.0 316.4,165.3 316.4,167.3 288.4,178.0" fill="#b4b4b4" />
<polygon points="232.2,151.2 258.6,140.2 316.4,165.3 288.4,176.0" fill="#e4e4e4" />
<polygon points="368.2,194.8 392.6,206.0 392.6,280.0 368.2,270.0" fill="#dd7f45" />
<polygon points="392.6,206.0 415.6,193.6 415.6,268.0 392.6,280.0" fill="#d2733a" />
<polygon points="370.4,198.3 379.3,202.4 379.3,274.6 370.4,270.9" fill="#f4f1ec" />
<polygon points="370.4,270.9 379.3,228.7 379.3,274.6" fill="#e3e6e6" />
<polygon points="381.5,203.4 390.4,207.5 390.4,279.1 381.5,275.4" fill="#f4f1ec" />
<polygon points="381.5,275.4 390.4,233.8 390.4,279.1" fill="#e3e6e6" />
<path d="M370.4 200.8 L379.3 204.9 M370.4 205.7 L379.3 209.8 M370.4 210.6 L379.3 214.7 M370.4 215.5 L379.3 219.6 M370.4 220.4 L379.3 224.5 M370.4 225.3 L379.3 229.4 M370.4 230.2 L379.3 234.3 M370.4 235.1 L379.3 239.2 M370.4 240.0 L379.3 244.1 M370.4 244.9 L379.3 249.0 M370.4 249.8 L379.3 253.9 M370.4 254.7 L379.3 258.8 M370.4 259.6 L379.3 263.7 M370.4 264.5 L379.3 268.6 M370.4 269.4 L379.3 273.5 M381.5 205.9 L390.4 210.0 M381.5 210.8 L390.4 214.9 M381.5 215.7 L390.4 219.8 M381.5 220.6 L390.4 224.7 M381.5 225.5 L390.4 229.6 M381.5 230.4 L390.4 234.5 M381.5 235.3 L390.4 239.4 M381.5 240.2 L390.4 244.3 M381.5 245.1 L390.4 249.2 M381.5 250.0 L390.4 254.1 M381.5 254.9 L390.4 259.0 M381.5 259.8 L390.4 263.9 M381.5 264.7 L390.4 268.8 M381.5 269.6 L390.4 273.7" stroke="#e0844d" stroke-width="0.9" fill="none"/>
<polygon points="394.7,207.4 403.1,202.9 403.1,274.5 394.7,278.9" fill="#f4f1ec" />
<polygon points="394.7,278.9 403.1,228.8 403.1,274.5" fill="#e3e6e6" />
<polygon points="405.1,201.7 413.5,197.2 413.5,269.1 405.1,273.5" fill="#f4f1ec" />
<polygon points="405.1,273.5 413.5,223.1 413.5,269.1" fill="#e3e6e6" />
<path d="M394.7 209.9 L403.1 205.4 M394.7 214.8 L403.1 210.3 M394.7 219.7 L403.1 215.2 M394.7 224.6 L403.1 220.1 M394.7 229.5 L403.1 225.0 M394.7 234.4 L403.1 229.9 M394.7 239.3 L403.1 234.8 M394.7 244.2 L403.1 239.7 M394.7 249.1 L403.1 244.6 M394.7 254.0 L403.1 249.5 M394.7 258.9 L403.1 254.4 M394.7 263.8 L403.1 259.3 M394.7 268.7 L403.1 264.2 M394.7 273.6 L403.1 269.1 M405.1 204.2 L413.5 199.7 M405.1 209.1 L413.5 204.6 M405.1 214.0 L413.5 209.5 M405.1 218.9 L413.5 214.4 M405.1 223.8 L413.5 219.3 M405.1 228.7 L413.5 224.2 M405.1 233.6 L413.5 229.1 M405.1 238.5 L413.5 234.0 M405.1 243.4 L413.5 238.9 M405.1 248.3 L413.5 243.8 M405.1 253.2 L413.5 248.7 M405.1 258.1 L413.5 253.6 M405.1 263.0 L413.5 258.5 M405.1 267.9 L413.5 263.4" stroke="#e0844d" stroke-width="0.9" fill="none"/>
<polygon points="368.2,192.6 392.6,203.8 392.6,206.0 368.2,194.8" fill="#cf7238" />
<polygon points="392.6,203.8 415.6,191.4 415.6,193.6 392.6,206.0" fill="#cf7238" />
<polygon points="368.2,192.6 391.7,180.4 415.6,191.4 392.6,203.8" fill="#e48d55" />
<polygon points="333.8,226.0 348.2,233.8 348.2,280.0 333.8,275.0" fill="#efd7a0" />
<polygon points="348.2,233.8 363.9,225.0 363.9,275.0 348.2,280.0" fill="#e6c98d" />
<polygon points="335.1,229.2 346.9,235.6 346.9,279.6 335.1,275.4" fill="#f3f0e8" />
<polygon points="335.1,275.4 346.9,252.7 346.9,279.6" fill="#e3e6e6" />
<path d="M335.1 231.7 L346.9 238.1 M335.1 236.0 L346.9 242.4 M335.1 240.3 L346.9 246.7 M335.1 244.6 L346.9 251.0 M335.1 248.9 L346.9 255.3 M335.1 253.2 L346.9 259.6 M335.1 257.5 L346.9 263.9 M335.1 261.8 L346.9 268.2 M335.1 266.1 L346.9 272.5 M335.1 270.4 L346.9 276.8" stroke="#e6c98d" stroke-width="0.9" fill="none"/>
<polygon points="349.6,235.5 362.5,228.3 362.5,275.4 349.6,279.6" fill="#f3f0e8" />
<polygon points="349.6,279.6 362.5,244.5 362.5,275.4" fill="#e3e6e6" />
<path d="M349.6 238.0 L362.5 230.8 M349.6 242.3 L362.5 235.1 M349.6 246.6 L362.5 239.4 M349.6 250.9 L362.5 243.7 M349.6 255.2 L362.5 248.0 M349.6 259.5 L362.5 252.3 M349.6 263.8 L362.5 256.6 M349.6 268.1 L362.5 260.9 M349.6 272.4 L362.5 265.2 M349.6 276.7 L362.5 269.5" stroke="#e6c98d" stroke-width="0.9" fill="none"/>
<polygon points="333.8,223.8 348.2,231.6 348.2,233.8 333.8,226.0" fill="#e3c68a" />
<polygon points="348.2,231.6 363.9,222.8 363.9,225.0 348.2,233.8" fill="#e3c68a" />
<polygon points="333.8,223.8 349.2,215.0 363.9,222.8 348.2,231.6" fill="#f6e3b8" />
<polygon points="310.0,265.0 341.0,281.8 372.0,298.6 372.0,280.0 349.0,262.0 320.0,255.0" fill="#dfe3ea" />
<polygon points="341.0,281.8 372.0,298.6 372.0,312.3 341.0,295.6" fill="#8797b8" />
<g fill="#3c527e"><polygon points="343.0,285.3 347.0,287.5 347.0,291.3 343.0,289.1"/><polygon points="343.0,290.9 347.0,293.1 347.0,296.9 343.0,294.7"/><polygon points="348.6,288.3 352.6,290.5 352.6,294.3 348.6,292.1"/><polygon points="348.6,293.9 352.6,296.1 352.6,299.9 348.6,297.7"/><polygon points="354.2,291.3 358.2,293.5 358.2,297.3 354.2,295.1"/><polygon points="354.2,296.9 358.2,299.1 358.2,302.9 354.2,300.7"/><polygon points="359.8,294.4 363.8,296.6 363.8,300.4 359.8,298.2"/><polygon points="359.8,300.0 363.8,302.2 363.8,306.0 359.8,303.8"/><polygon points="365.4,297.4 369.4,299.6 369.4,303.4 365.4,301.2"/><polygon points="365.4,303.0 369.4,305.2 369.4,309.0 365.4,306.8"/></g>
<polygon points="310.0,262.0 313.0,260.0 313.0,290.0 310.0,288.0" fill="#b8c2d6" />
<polygon points="385.0,265.7 415.2,259.5 425.4,270.4 385.0,288.3" fill="#d7dbe2" />
<polygon points="385.0,288.3 425.4,270.4 425.4,288.6 385.0,306.6" fill="#aeb9cf" />
<g fill="#3c527e"><polygon points="387.5,289.2 391.1,287.6 391.1,291.8 387.5,293.4"/><polygon points="387.5,295.2 391.1,293.6 391.1,297.8 387.5,299.4"/><polygon points="392.8,286.8 396.4,285.2 396.4,289.4 392.8,291.0"/><polygon points="392.8,292.8 396.4,291.2 396.4,295.4 392.8,297.0"/><polygon points="398.1,284.5 401.7,282.9 401.7,287.1 398.1,288.7"/><polygon points="398.1,290.5 401.7,288.9 401.7,293.1 398.1,294.7"/><polygon points="403.4,282.1 407.0,280.5 407.0,284.7 403.4,286.3"/><polygon points="403.4,288.1 407.0,286.5 407.0,290.7 403.4,292.3"/><polygon points="408.7,279.8 412.3,278.2 412.3,282.4 408.7,284.0"/><polygon points="408.7,285.8 412.3,284.2 412.3,288.4 408.7,290.0"/><polygon points="414.0,277.5 417.6,275.9 417.6,280.1 414.0,281.7"/><polygon points="414.0,283.5 417.6,281.9 417.6,286.1 414.0,287.7"/><polygon points="419.3,275.1 422.9,273.5 422.9,277.7 419.3,279.3"/><polygon points="419.3,281.1 422.9,279.5 422.9,283.7 419.3,285.3"/></g>
<polygon points="359.9,265.3 373.8,272.0 373.8,313.3 359.9,305.8" fill="#c3cbdb" />
<polygon points="373.8,272.0 385.2,265.9 385.2,306.9 373.8,313.3" fill="#d5dae5" />
<polygon points="359.9,265.3 371.6,259.2 385.2,265.9 373.8,272.0" fill="#dfe3ea" />
<g fill="#3c527e"><polygon points="361.8,271.0 366.0,273.1 366.0,278.0 361.8,275.9"/><polygon points="361.8,278.0 366.0,280.1 366.0,285.0 361.8,282.9"/><polygon points="361.8,285.0 366.0,287.1 366.0,292.0 361.8,289.9"/><polygon points="361.8,292.0 366.0,294.1 366.0,299.0 361.8,296.9"/><polygon points="361.8,299.0 366.0,301.1 366.0,306.0 361.8,303.9"/><polygon points="367.6,273.9 371.8,276.0 371.8,280.9 367.6,278.8"/><polygon points="367.6,280.9 371.8,283.0 371.8,287.9 367.6,285.8"/><polygon points="367.6,287.9 371.8,290.0 371.8,294.9 367.6,292.8"/><polygon points="367.6,294.9 371.8,297.0 371.8,301.9 367.6,299.8"/><polygon points="367.6,301.9 371.8,304.0 371.8,308.9 367.6,306.8"/><polygon points="375.3,275.8 378.9,273.9 378.9,278.9 375.3,280.8"/><polygon points="375.3,282.8 378.9,280.9 378.9,285.9 375.3,287.8"/><polygon points="375.3,289.8 378.9,287.9 378.9,292.9 375.3,294.8"/><polygon points="375.3,296.8 378.9,294.9 378.9,299.9 375.3,301.8"/><polygon points="375.3,303.8 378.9,301.9 378.9,306.9 375.3,308.8"/><polygon points="380.3,273.2 383.9,271.4 383.9,276.4 380.3,278.2"/><polygon points="380.3,280.2 383.9,278.4 383.9,283.4 380.3,285.2"/><polygon points="380.3,287.2 383.9,285.4 383.9,290.4 380.3,292.2"/><polygon points="380.3,294.2 383.9,292.4 383.9,297.4 380.3,299.2"/><polygon points="380.3,301.2 383.9,299.4 383.9,304.4 380.3,306.2"/></g>
<polygon points="313.7,254.6 327.9,262.0 327.9,303.9 313.7,296.0" fill="#efd7a0" />
<polygon points="327.9,262.0 340.5,255.1 340.5,297.8 327.9,303.9" fill="#e6c98d" />
<polygon points="315.0,257.8 326.6,263.8 326.6,303.2 315.0,296.7" fill="#f3f0e8" />
<polygon points="315.0,296.7 326.6,278.3 326.6,303.2" fill="#e3e6e6" />
<path d="M315.0 260.3 L326.6 266.3 M315.0 264.6 L326.6 270.6 M315.0 268.9 L326.6 274.9 M315.0 273.2 L326.6 279.2 M315.0 277.5 L326.6 283.5 M315.0 281.8 L326.6 287.8 M315.0 286.1 L326.6 292.1 M315.0 290.4 L326.6 296.4 M315.0 294.7 L326.6 300.7" stroke="#e6c98d" stroke-width="0.9" fill="none"/>
<polygon points="329.0,263.9 339.4,258.2 339.4,298.3 329.0,303.4" fill="#f3f0e8" />
<polygon points="329.0,303.4 339.4,272.9 339.4,298.3" fill="#e3e6e6" />
<path d="M329.0 266.4 L339.4 260.7 M329.0 270.7 L339.4 265.0 M329.0 275.0 L339.4 269.3 M329.0 279.3 L339.4 273.6 M329.0 283.6 L339.4 277.9 M329.0 287.9 L339.4 282.2 M329.0 292.2 L339.4 286.5 M329.0 296.5 L339.4 290.8 M329.0 300.8 L339.4 295.1" stroke="#e6c98d" stroke-width="0.9" fill="none"/>
<polygon points="313.7,252.4 327.9,259.8 327.9,262.0 313.7,254.6" fill="#e3c68a" />
<polygon points="327.9,259.8 340.5,252.9 340.5,255.1 327.9,262.0" fill="#e3c68a" />
<polygon points="313.7,252.4 326.8,245.1 340.5,252.9 327.9,259.8" fill="#f6e3b8" />
<g transform="translate(0.0 0.0)">
<polygon points="508.8,197.0 547.6,178.0 547.6,229.9 508.8,251.0" fill="#a99a83" />
<polygon points="451.3,177.5 481.1,169.5 508.8,197.5 508.8,251.0 451.3,223.0" fill="#d3c5ad" />
<polygon points="451.3,177.5 454.3,178.5 454.3,224.5 451.3,223.0" fill="#ece2cf" />
<polygon points="505.2,196.0 508.8,197.5 508.8,251.0 505.2,249.3" fill="#ece2cf" />
<polygon points="508.8,197.5 511.8,196.1 511.8,249.4 508.8,251.0" fill="#cdbfa6" />
<polygon points="544.8,179.3 547.6,178.0 547.6,229.9 544.8,231.4" fill="#cdbfa6" />
<path d="M517.6 237.8 L517.6 216 Q517.8 209.5 528 206.8 L539.6 203.8 L539.6 226.5 Z" fill="#ece2cf" />
<path d="M519.6 234.6 L519.6 217 Q519.8 211.5 528.5 209.2 L537.6 206.8 L537.6 225.4 Z" fill="#a9d5ee" />
<polygon points="519.6,222.0 537.6,212.0 537.6,225.4 519.6,234.6" fill="#c4e4f6" />
<polygon points="464.5,198.3 492.6,208.6 492.6,243.2 464.5,229.5" fill="#ece2cf" />
<polygon points="466.2,200.6 491.0,209.8 491.0,242.4 466.2,230.3" fill="#b5333a" />
<polygon points="468.3,204.0 477.3,207.4 477.3,235.0 468.3,230.6" fill="#bfe5f7" />
<polygon points="479.6,208.3 488.8,211.8 488.8,240.6 479.6,236.1" fill="#bfe5f7" />
<polygon points="464.5,186.3 494.0,197.2 494.0,203.8 464.5,192.9" fill="#ece2cf" />
<polygon points="466.6,189.6 477.0,193.4 477.0,196.2 466.6,192.4" fill="#3a3530" />
<polygon points="480.4,194.7 491.6,198.8 491.6,201.6 480.4,197.5" fill="#3a3530" />
<path d="M475.6 186.4 L475.6 180 Q476 174.6 480.6 174.4 Q485.2 174.8 485.6 181 L485.6 187.6 Z" fill="#f0e8d8" />
<path d="M476.8 185.6 L476.8 180.2 Q477.2 176 480.6 175.8 Q484 176.2 484.4 181.2 L484.4 186.6 Z" fill="#3a3530" />
<polyline points="476.8,177.7 484.4,178.7" fill="none" stroke="#d8cdb8" stroke-width="0.8" />
<polyline points="476.8,180.1 484.4,181.1" fill="none" stroke="#d8cdb8" stroke-width="0.8" />
<polyline points="476.8,182.5 484.4,183.5" fill="none" stroke="#d8cdb8" stroke-width="0.8" />
<polyline points="476.8,184.7 484.4,185.7" fill="none" stroke="#d8cdb8" stroke-width="0.8" />
<polygon points="447.6,176.0 481.1,168.2 522.2,153.6 493.0,153.4" fill="#aa826d" />
<polygon points="481.1,168.2 522.2,153.6 548.4,177.6 509.3,197.8" fill="#8b6455" />
<polyline points="447.6,176.4 481.1,168.8 509.3,198.2" fill="none" stroke="#efe6d6" stroke-width="1.3" />
<polygon points="493.6,152.2 501.7,156.4 501.7,166.8 493.6,162.4" fill="#cbbba2" />
<polygon points="501.7,156.4 508.4,152.2 508.4,162.4 501.7,166.8" fill="#a6957c" />
<path d="M495.2 160 L495.2 157 Q497.5 154.2 500 158 L500 162.4 Z" fill="#3a3530" />
<path d="M503 162.6 L503 158.4 Q505 154.4 507.2 155.6 L507.2 160 Z" fill="#2e2a26" />
<polygon points="493.8,152.6 500.6,143.2 501.7,156.8" fill="#a8725f" />
<polygon points="501.7,156.8 500.6,143.2 508.2,152.4" fill="#8a5a4a" />
<polygon points="510.0,196.9 512.9,195.5 526.8,208.2 523.9,209.7" fill="#1f6db3" />
<polygon points="523.9,209.7 526.8,208.2 526.8,210.8 523.9,212.3" fill="#1d66ab" />
<polygon points="512.9,195.5 515.8,194.1 529.7,206.7 526.8,208.2" fill="#ffffff" />
<polygon points="526.8,208.2 529.7,206.7 529.7,209.3 526.8,210.8" fill="#1d66ab" />
<polygon points="515.8,194.1 518.6,192.7 532.6,205.1 529.7,206.7" fill="#1f6db3" />
<polygon points="529.7,206.7 532.6,205.1 532.6,207.7 529.7,209.3" fill="#1d66ab" />
<polygon points="518.6,192.7 521.5,191.2 535.6,203.6 532.6,205.1" fill="#ffffff" />
<polygon points="532.6,205.1 535.6,203.6 535.6,206.2 532.6,207.7" fill="#1d66ab" />
<polygon points="521.5,191.2 524.4,189.8 538.5,202.1 535.6,203.6" fill="#1f6db3" />
<polygon points="535.6,203.6 538.5,202.1 538.5,204.7 535.6,206.2" fill="#1d66ab" />
<polygon points="524.4,189.8 527.3,188.4 541.4,200.6 538.5,202.1" fill="#ffffff" />
<polygon points="538.5,202.1 541.4,200.6 541.4,203.2 538.5,204.7" fill="#1d66ab" />
<polygon points="527.3,188.4 530.1,187.0 544.3,199.0 541.4,200.6" fill="#1f6db3" />
<polygon points="541.4,200.6 544.3,199.0 544.3,201.6 541.4,203.2" fill="#1d66ab" />
<polygon points="530.1,187.0 533.0,185.6 547.2,197.5 544.3,199.0" fill="#ffffff" />
<polygon points="544.3,199.0 547.2,197.5 547.2,200.1 544.3,201.6" fill="#1d66ab" />
<polygon points="533.0,185.6 535.9,184.2 550.1,196.0 547.2,197.5" fill="#1f6db3" />
<polygon points="547.2,197.5 550.1,196.0 550.1,198.6 547.2,200.1" fill="#1d66ab" />
<polygon points="535.9,184.2 538.8,182.7 553.1,194.5 550.1,196.0" fill="#ffffff" />
<polygon points="550.1,196.0 553.1,194.5 553.1,197.1 550.1,198.6" fill="#1d66ab" />
<polygon points="538.8,182.7 541.6,181.3 556.0,192.9 553.1,194.5" fill="#1f6db3" />
<polygon points="553.1,194.5 556.0,192.9 556.0,195.5 553.1,197.1" fill="#1d66ab" />
<polygon points="541.6,181.3 544.5,179.9 558.9,191.4 556.0,192.9" fill="#ffffff" />
<polygon points="556.0,192.9 558.9,191.4 558.9,194.0 556.0,195.5" fill="#1d66ab" />
<polygon points="544.5,179.9 547.4,178.5 561.8,189.9 558.9,191.4" fill="#1f6db3" />
<polygon points="558.9,191.4 561.8,189.9 561.8,192.5 558.9,194.0" fill="#1d66ab" />
<polygon points="510.0,196.9 523.9,209.7 523.9,212.3" fill="#164f88" />
</g>
<polygon points="692.3,204.4 714.2,187.7 753.9,190.9 753.9,211.7 719.4,222.2 695.4,207.6" fill="#7d7d7d" />
<polygon points="714.2,187.7 734.1,183.6 754.9,191.9 734.1,203.4" fill="#6b6b6b" />
<polygon points="692.3,204.4 714.2,187.7 735.1,203.4 719.4,209.7" fill="#858585" />
<polygon points="695.4,207.6 719.4,218.4 719.4,238.5 695.4,227.4" fill="#ead8c3" />
<polygon points="695.4,224.7 719.4,235.7 719.4,238.9 695.4,227.8" fill="#4f5878" />
<polygon points="698.8,213.4 702.5,215.1 702.5,220.7 698.8,219.1" fill="#4a5068" />
<polygon points="704.6,216.1 708.4,217.8 708.4,223.4 704.6,221.8" fill="#4a5068" />
<polygon points="710.5,218.8 714.2,220.5 714.2,226.1 710.5,224.5" fill="#4a5068" />
<polygon points="718.8,206.3 745.5,217.8 745.5,257.7 718.8,246.2" fill="#dde1f1" />
<polygon points="745.5,217.8 805.6,188.6 805.6,225.9 745.5,257.7" fill="#b4bcd9" />
<polygon points="718.4,206.7 780.0,177.9 806.1,189.2 745.5,218.6" fill="#c5cbe3" />
<polygon points="723.6,206.9 780.0,180.6 801.1,189.6 745.5,215.9" fill="#8f98bd" />
<rect x="762.5" y="185.8" width="5.8" height="4.6" fill="#c9cfe4"/>
<ellipse cx="765.4" cy="185.8" rx="2.9" ry="1.5" fill="#e3e7f4"/>
<ellipse cx="765.4" cy="190.3" rx="2.9" ry="1.5" fill="#c9cfe4"/>
<rect x="769.3" y="183.1" width="5.8" height="4.6" fill="#c9cfe4"/>
<ellipse cx="772.2" cy="183.1" rx="2.9" ry="1.5" fill="#e3e7f4"/>
<ellipse cx="772.2" cy="187.6" rx="2.9" ry="1.5" fill="#c9cfe4"/>
<rect x="776.4" y="180.2" width="5.8" height="4.6" fill="#c9cfe4"/>
<ellipse cx="779.3" cy="180.2" rx="2.9" ry="1.5" fill="#e3e7f4"/>
<ellipse cx="779.3" cy="184.7" rx="2.9" ry="1.5" fill="#c9cfe4"/>
<polygon points="722.2,222.6 727.4,224.9 727.4,232.0 722.2,229.7" fill="#4a5068" />
<polygon points="729.5,225.7 734.7,228.0 734.7,235.1 729.5,232.8" fill="#4a5068" />
<polygon points="736.8,228.9 742.0,231.2 742.0,238.3 736.8,236.0" fill="#4a5068" />
<polygon points="750.1,220.1 754.9,217.8 754.9,223.6 750.1,225.9" fill="#4a5068" />
<polygon points="750.1,228.0 754.9,225.7 754.9,231.6 750.1,233.9" fill="#4a5068" />
<polygon points="750.1,236.0 754.9,233.7 754.9,239.5 750.1,241.8" fill="#4a5068" />
<polygon points="750.1,243.9 754.9,241.6 754.9,247.4 750.1,249.7" fill="#4a5068" />
<polygon points="780.6,205.9 784.8,203.8 784.8,209.2 780.6,211.3" fill="#4a5068" />
<polygon points="786.9,202.9 791.0,200.8 791.0,206.2 786.9,208.3" fill="#4a5068" />
<polygon points="793.1,199.8 797.3,197.8 797.3,203.2 793.1,205.3" fill="#4a5068" />
<polygon points="799.4,196.8 803.6,194.7 803.6,200.2 799.4,202.2" fill="#4a5068" />
<polygon points="786.9,210.4 791.0,208.3 791.0,213.7 786.9,215.8" fill="#4a5068" />
<polygon points="793.1,207.4 797.3,205.3 797.3,210.7 793.1,212.8" fill="#4a5068" />
<polygon points="799.4,204.3 803.6,202.2 803.6,207.7 799.4,209.8" fill="#4a5068" />
<polygon points="773.7,230.5 790.4,222.2 790.4,232.6 773.7,241.4" fill="#4b3b3c" />
<polygon points="762.2,225.9 785.2,214.7 794.0,218.4 771.0,230.1" fill="#e1e4ee" />
<polygon points="762.2,225.9 771.0,230.1 771.0,231.8 762.2,227.6" fill="#c9cfe0" />
<polygon points="771.0,230.1 794.0,218.4 794.0,220.1 771.0,231.8" fill="#dfe3ee" />
<polyline points="745.5,219.1 745.5,257.7" fill="none" stroke="#eef0f8" stroke-width="0.8" />
<polygon points="821.7,239.9 843.6,230.5 904.6,261.4 873.9,277.5" fill="#d2d4d9" />
<polygon points="821.7,239.9 873.9,277.5 873.9,280.6 821.7,243.1" fill="#c1c3c8" />
<polygon points="873.9,277.5 904.6,261.4 904.6,264.3 873.9,280.6" fill="#b1b3b9" />
<polygon points="829.0,240.5 844.0,233.9 896.9,261.0 873.9,272.7" fill="#dddee2" />
<path d="M836.7 191.5 L844.3 191.5 L846.3 246.8 Q840.5 249.4 834.7 246.8 Z" fill="url(#chg)"/>
<path d="M836.7 192.3 Q840.5 193.5 844.3 192.3 L844.5 196.7 Q840.5 197.9 836.5 196.7 Z" fill="url(#chr)"/>
<path d="M836.4 201.1 Q840.5 202.3 844.6 201.1 L844.8 205.5 Q840.5 206.7 836.2 205.5 Z" fill="url(#chr)"/>
<path d="M836.0 209.9 Q840.5 211.1 845.0 209.9 L845.1 214.2 Q840.5 215.4 835.9 214.2 Z" fill="url(#chr)"/>
<path d="M835.7 218.6 Q840.5 219.8 845.3 218.6 L845.4 223.0 Q840.5 224.2 835.6 223.0 Z" fill="url(#chr)"/>
<ellipse cx="840.5" cy="191.8" rx="3.2" ry="1.3" fill="#50545e"/>
<path d="M856.2 196.7 L863.7 196.7 L865.8 253.5 Q859.9 256.1 854.1 253.5 Z" fill="url(#chg)"/>
<path d="M856.1 197.6 Q859.9 198.8 863.7 197.6 L863.9 201.9 Q859.9 203.1 856.0 201.9 Z" fill="url(#chr)"/>
<path d="M855.8 206.3 Q859.9 207.5 864.0 206.3 L864.2 210.7 Q859.9 211.9 855.6 210.7 Z" fill="url(#chr)"/>
<path d="M855.5 215.1 Q859.9 216.3 864.3 215.1 L864.5 219.5 Q859.9 220.7 855.3 219.5 Z" fill="url(#chr)"/>
<path d="M855.2 223.9 Q859.9 225.1 864.7 223.9 L864.8 228.2 Q859.9 229.4 855.0 228.2 Z" fill="url(#chr)"/>
<ellipse cx="859.9" cy="197.0" rx="3.2" ry="1.3" fill="#50545e"/>
<polygon points="776.4,251.4 834.2,277.7 834.2,301.1 776.4,273.7" fill="#57b5dc" />
<polygon points="834.2,277.7 872.2,260.4 872.2,281.0 834.2,301.1" fill="#2ea1cc" />
<polygon points="780.0,257.7 795.6,265.0 795.6,278.5 780.0,271.4" fill="#e3efef" />
<polygon points="813.4,273.3 831.1,281.7 831.1,295.2 813.4,287.3" fill="#e3efef" />
<polygon points="797.7,272.3 810.2,277.9 810.2,289.4 797.7,283.8" fill="#6d7487" />
<polygon points="796.7,272.3 798.8,270.6 811.3,276.4 810.2,277.9" fill="#8fc8e6" />
<polygon points="841.5,278.1 869.1,265.0 869.1,278.5 841.5,292.7" fill="#dde9e8" />
<polygon points="835.7,280.6 839.9,278.5 839.9,295.2 835.7,297.3" fill="#7fcbe6" />
<polygon points="776.4,251.0 814.8,236.8 872.2,260.0 834.2,277.3" fill="#1f8ab5" />
<polygon points="781.4,251.0 814.8,238.9 867.0,260.0 834.2,275.0" fill="#838a9b" />
<polygon points="781.4,251.0 798.8,244.7 850.9,267.7 834.2,275.0" fill="#767d90" />
<polyline points="792.5,247.0 845.1,270.0" fill="none" stroke="#565c6c" stroke-width="0.6" />
<polyline points="803.5,243.0 855.9,265.1" fill="none" stroke="#565c6c" stroke-width="0.6" />
<polyline points="798.9,258.9 832.0,245.8" fill="none" stroke="#565c6c" stroke-width="0.6" />
<polyline points="816.3,266.8 849.3,252.8" fill="none" stroke="#565c6c" stroke-width="0.6" />
<polyline points="776.4,251.2 834.2,277.5 872.2,260.2" fill="none" stroke="#7fd0ee" stroke-width="0.9" />
<path d="M876.0 202.4 L883.5 202.4 L885.6 266.4 Q879.7 269.0 873.9 266.4 Z" fill="url(#chg)"/>
<path d="M876.0 203.2 Q879.7 204.4 883.5 203.2 L883.7 207.6 Q879.7 208.8 875.8 207.6 Z" fill="url(#chr)"/>
<path d="M875.7 212.0 Q879.7 213.2 883.8 212.0 L884.0 216.3 Q879.7 217.5 875.5 216.3 Z" fill="url(#chr)"/>
<path d="M875.4 220.7 Q879.7 221.9 884.1 220.7 L884.2 225.1 Q879.7 226.3 875.2 225.1 Z" fill="url(#chr)"/>
<path d="M875.1 229.5 Q879.7 230.7 884.4 229.5 L884.5 233.9 Q879.7 235.1 875.0 233.9 Z" fill="url(#chr)"/>
<ellipse cx="879.7" cy="202.7" rx="3.2" ry="1.3" fill="#50545e"/>
<polygon points="907.0,295.9 928.9,286.5 989.9,317.4 959.2,333.5" fill="#d2d4d9" />
<polygon points="907.0,295.9 959.2,333.5 959.2,336.6 907.0,299.1" fill="#c1c3c8" />
<polygon points="959.2,333.5 989.9,317.4 989.9,320.3 959.2,336.6" fill="#b1b3b9" />
<polygon points="914.3,296.5 929.3,289.9 982.2,317.0 959.2,328.7" fill="#dddee2" />
<path d="M922.0 247.5 L929.6 247.5 L931.6 302.8 Q925.8 305.4 920.0 302.8 Z" fill="url(#chg)"/>
<path d="M922.0 248.3 Q925.8 249.5 929.6 248.3 L929.8 252.7 Q925.8 253.9 921.8 252.7 Z" fill="url(#chr)"/>
<path d="M921.7 257.1 Q925.8 258.3 929.9 257.1 L930.1 261.5 Q925.8 262.7 921.5 261.5 Z" fill="url(#chr)"/>
<path d="M921.3 265.9 Q925.8 267.1 930.3 265.9 L930.4 270.2 Q925.8 271.4 921.2 270.2 Z" fill="url(#chr)"/>
<path d="M921.0 274.6 Q925.8 275.8 930.6 274.6 L930.7 279.0 Q925.8 280.2 920.9 279.0 Z" fill="url(#chr)"/>
<ellipse cx="925.8" cy="247.8" rx="3.2" ry="1.3" fill="#50545e"/>
<path d="M941.5 252.7 L949.0 252.7 L951.1 309.5 Q945.2 312.1 939.4 309.5 Z" fill="url(#chg)"/>
<path d="M941.4 253.6 Q945.2 254.8 949.0 253.6 L949.2 257.9 Q945.2 259.1 941.3 257.9 Z" fill="url(#chr)"/>
<path d="M941.1 262.3 Q945.2 263.5 949.3 262.3 L949.5 266.7 Q945.2 267.9 940.9 266.7 Z" fill="url(#chr)"/>
<path d="M940.8 271.1 Q945.2 272.3 949.6 271.1 L949.8 275.5 Q945.2 276.7 940.6 275.5 Z" fill="url(#chr)"/>
<path d="M940.5 279.9 Q945.2 281.1 950.0 279.9 L950.1 284.2 Q945.2 285.4 940.3 284.2 Z" fill="url(#chr)"/>
<ellipse cx="945.2" cy="253.0" rx="3.2" ry="1.3" fill="#50545e"/>
<polygon points="861.7,307.4 919.5,333.7 919.5,357.1 861.7,329.7" fill="#57b5dc" />
<polygon points="919.5,333.7 957.5,316.4 957.5,337.0 919.5,357.1" fill="#2ea1cc" />
<polygon points="865.3,313.7 880.9,321.0 880.9,334.5 865.3,327.4" fill="#e3efef" />
<polygon points="898.7,329.3 916.4,337.7 916.4,351.2 898.7,343.3" fill="#e3efef" />
<polygon points="883.0,328.3 895.5,333.9 895.5,345.4 883.0,339.8" fill="#6d7487" />
<polygon points="882.0,328.3 884.1,326.6 896.6,332.4 895.5,333.9" fill="#8fc8e6" />
<polygon points="926.8,334.1 954.4,321.0 954.4,334.5 926.8,348.7" fill="#dde9e8" />
<polygon points="921.0,336.6 925.2,334.5 925.2,351.2 921.0,353.3" fill="#7fcbe6" />
<polygon points="861.7,307.0 900.1,292.8 957.5,316.0 919.5,333.3" fill="#1f8ab5" />
<polygon points="866.7,307.0 900.1,294.9 952.3,316.0 919.5,331.0" fill="#838a9b" />
<polygon points="866.7,307.0 884.1,300.7 936.2,323.7 919.5,331.0" fill="#767d90" />
<polyline points="877.8,303.0 930.4,326.0" fill="none" stroke="#565c6c" stroke-width="0.6" />
<polyline points="888.8,299.0 941.2,321.1" fill="none" stroke="#565c6c" stroke-width="0.6" />
<polyline points="884.2,314.9 917.3,301.8" fill="none" stroke="#565c6c" stroke-width="0.6" />
<polyline points="901.6,322.8 934.6,308.8" fill="none" stroke="#565c6c" stroke-width="0.6" />
<polyline points="861.7,307.2 919.5,333.5 957.5,316.2" fill="none" stroke="#7fd0ee" stroke-width="0.9" />
<path d="M961.3 258.4 L968.8 258.4 L970.9 322.4 Q965.0 325.0 959.2 322.4 Z" fill="url(#chg)"/>
<path d="M961.3 259.2 Q965.0 260.4 968.8 259.2 L969.0 263.6 Q965.0 264.8 961.1 263.6 Z" fill="url(#chr)"/>
<path d="M961.0 268.0 Q965.0 269.2 969.1 268.0 L969.3 272.3 Q965.0 273.5 960.8 272.3 Z" fill="url(#chr)"/>
<path d="M960.7 276.7 Q965.0 277.9 969.4 276.7 L969.5 281.1 Q965.0 282.3 960.5 281.1 Z" fill="url(#chr)"/>
<path d="M960.4 285.5 Q965.0 286.7 969.7 285.5 L969.8 289.9 Q965.0 291.1 960.3 289.9 Z" fill="url(#chr)"/>
<ellipse cx="965.0" cy="258.7" rx="3.2" ry="1.3" fill="#50545e"/>
<g transform="translate(667.5 232.8) scale(1.000)">
<path d="M-3.8 68 L-3.8 63 Q0 58.5 4 63 L4 68 Z" fill="#a23a0e"/>
<path d="M0 46.0 Q8.8 54.8 19.5 61.0 L12.1 61.7 L9.0 64.5 L2.3 62.5 L-4.3 64.9 L-9.8 62.1 L-13.3 63.7 L-19.5 60.5 Q-8.8 54.8 0 46.0 Z" fill="#176b2c"/><path d="M-0.5 48.5 L5.8 58.5 L-1.6 60.3 L-7.0 60.9 L-14.4 58.9 Z" fill="#2c913d"/><path d="M-1.2 50.2 L1.6 58.1 L-5.1 59.3 L-10.9 57.3 Z" fill="#58b84c"/><path d="M0 37.3 Q9.9 46.1 22.0 52.5 L13.6 53.2 L10.1 56.0 L2.6 54.0 L-4.8 56.4 L-11.0 53.6 L-15.0 55.2 L-22.0 52.0 Q-9.9 46.1 0 37.3 Z" fill="#176b2c"/><path d="M-0.5 39.8 L6.6 50.0 L-1.8 51.8 L-7.9 52.4 L-16.3 50.4 Z" fill="#2c913d"/><path d="M-1.2 41.5 L1.8 49.6 L-5.7 50.8 L-12.3 48.8 Z" fill="#58b84c"/><path d="M0 27.2 Q9.2 36.8 20.5 43.8 L12.7 44.5 L9.4 47.3 L2.5 45.3 L-4.5 47.7 L-10.2 44.9 L-13.9 46.5 L-20.5 43.3 Q-9.2 36.8 0 27.2 Z" fill="#176b2c"/><path d="M-0.5 29.7 L6.1 41.3 L-1.6 43.1 L-7.4 43.7 L-15.2 41.7 Z" fill="#2c913d"/><path d="M-1.2 31.4 L1.6 40.9 L-5.3 42.1 L-11.5 40.1 Z" fill="#58b84c"/><path d="M0 19.0 Q7.4 27.6 16.5 33.7 L10.2 34.4 L7.6 37.2 L2.0 35.2 L-3.6 37.6 L-8.2 34.8 L-11.2 36.4 L-16.5 33.2 Q-7.4 27.6 0 19.0 Z" fill="#176b2c"/><path d="M-0.5 21.5 L5.0 31.2 L-1.3 33.0 L-5.9 33.6 L-12.2 31.6 Z" fill="#2c913d"/><path d="M-1.2 23.2 L1.3 30.8 L-4.3 32.0 L-9.2 30.0 Z" fill="#58b84c"/><path d="M0 11.4 Q6.1 19.7 13.5 25.5 L8.4 26.2 L6.2 29.0 L1.6 27.0 L-3.0 29.4 L-6.8 26.6 L-9.2 28.2 L-13.5 25.0 Q-6.1 19.7 0 11.4 Z" fill="#176b2c"/><path d="M-0.5 13.9 L4.0 23.0 L-1.1 24.8 L-4.9 25.4 L-10.0 23.4 Z" fill="#2c913d"/><path d="M-1.2 15.6 L1.1 22.6 L-3.5 23.8 L-7.6 21.8 Z" fill="#58b84c"/><path d="M0 3.8 Q5.1 12.1 11.4 17.9 L7.1 18.6 L5.2 21.4 L1.4 19.4 L-2.5 21.8 L-5.7 19.0 L-7.8 20.6 L-11.4 17.4 Q-5.1 12.1 0 3.8 Z" fill="#176b2c"/><path d="M-0.5 6.3 L3.4 15.4 L-0.9 17.2 L-4.1 17.8 L-8.4 15.8 Z" fill="#2c913d"/><path d="M-1.2 8.0 L0.9 15.0 L-3.0 16.2 L-6.4 14.2 Z" fill="#58b84c"/><path d="M0 -2.6 Q4.0 5.1 8.9 10.3 L5.5 11.0 L4.1 13.8 L1.1 11.8 L-2.0 14.2 L-4.5 11.4 L-6.1 13.0 L-8.9 9.8 Q-4.0 5.1 0 -2.6 Z" fill="#176b2c"/><path d="M-0.5 -0.1 L2.7 7.8 L-0.7 9.6 L-3.2 10.2 L-6.6 8.2 Z" fill="#2c913d"/><path d="M-1.2 1.6 L0.7 7.4 L-2.3 8.6 L-5.0 6.6 Z" fill="#58b84c"/><path d="M0 0.0 Q2.6 3.2 5.7 3.9 L3.5 4.6 L2.6 7.4 L0.7 5.4 L-1.3 7.8 L-2.9 5.0 L-3.9 6.6 L-5.7 3.4 Q-2.6 3.2 0 0.0 Z" fill="#176b2c"/><path d="M-0.5 2.5 L1.7 1.4 L-0.5 3.2 L-2.1 3.8 L-4.2 1.8 Z" fill="#2c913d"/><path d="M-1.2 4.2 L0.5 1.0 L-1.5 2.2 L-3.2 0.2 Z" fill="#58b84c"/>
</g>
<g transform="translate(714.8 254.2) scale(1.000)">
<path d="M-3.8 68 L-3.8 63 Q0 58.5 4 63 L4 68 Z" fill="#a23a0e"/>
<path d="M0 46.0 Q8.8 54.8 19.5 61.0 L12.1 61.7 L9.0 64.5 L2.3 62.5 L-4.3 64.9 L-9.8 62.1 L-13.3 63.7 L-19.5 60.5 Q-8.8 54.8 0 46.0 Z" fill="#176b2c"/><path d="M-0.5 48.5 L5.8 58.5 L-1.6 60.3 L-7.0 60.9 L-14.4 58.9 Z" fill="#2c913d"/><path d="M-1.2 50.2 L1.6 58.1 L-5.1 59.3 L-10.9 57.3 Z" fill="#58b84c"/><path d="M0 37.3 Q9.9 46.1 22.0 52.5 L13.6 53.2 L10.1 56.0 L2.6 54.0 L-4.8 56.4 L-11.0 53.6 L-15.0 55.2 L-22.0 52.0 Q-9.9 46.1 0 37.3 Z" fill="#176b2c"/><path d="M-0.5 39.8 L6.6 50.0 L-1.8 51.8 L-7.9 52.4 L-16.3 50.4 Z" fill="#2c913d"/><path d="M-1.2 41.5 L1.8 49.6 L-5.7 50.8 L-12.3 48.8 Z" fill="#58b84c"/><path d="M0 27.2 Q9.2 36.8 20.5 43.8 L12.7 44.5 L9.4 47.3 L2.5 45.3 L-4.5 47.7 L-10.2 44.9 L-13.9 46.5 L-20.5 43.3 Q-9.2 36.8 0 27.2 Z" fill="#176b2c"/><path d="M-0.5 29.7 L6.1 41.3 L-1.6 43.1 L-7.4 43.7 L-15.2 41.7 Z" fill="#2c913d"/><path d="M-1.2 31.4 L1.6 40.9 L-5.3 42.1 L-11.5 40.1 Z" fill="#58b84c"/><path d="M0 19.0 Q7.4 27.6 16.5 33.7 L10.2 34.4 L7.6 37.2 L2.0 35.2 L-3.6 37.6 L-8.2 34.8 L-11.2 36.4 L-16.5 33.2 Q-7.4 27.6 0 19.0 Z" fill="#176b2c"/><path d="M-0.5 21.5 L5.0 31.2 L-1.3 33.0 L-5.9 33.6 L-12.2 31.6 Z" fill="#2c913d"/><path d="M-1.2 23.2 L1.3 30.8 L-4.3 32.0 L-9.2 30.0 Z" fill="#58b84c"/><path d="M0 11.4 Q6.1 19.7 13.5 25.5 L8.4 26.2 L6.2 29.0 L1.6 27.0 L-3.0 29.4 L-6.8 26.6 L-9.2 28.2 L-13.5 25.0 Q-6.1 19.7 0 11.4 Z" fill="#176b2c"/><path d="M-0.5 13.9 L4.0 23.0 L-1.1 24.8 L-4.9 25.4 L-10.0 23.4 Z" fill="#2c913d"/><path d="M-1.2 15.6 L1.1 22.6 L-3.5 23.8 L-7.6 21.8 Z" fill="#58b84c"/><path d="M0 3.8 Q5.1 12.1 11.4 17.9 L7.1 18.6 L5.2 21.4 L1.4 19.4 L-2.5 21.8 L-5.7 19.0 L-7.8 20.6 L-11.4 17.4 Q-5.1 12.1 0 3.8 Z" fill="#176b2c"/><path d="M-0.5 6.3 L3.4 15.4 L-0.9 17.2 L-4.1 17.8 L-8.4 15.8 Z" fill="#2c913d"/><path d="M-1.2 8.0 L0.9 15.0 L-3.0 16.2 L-6.4 14.2 Z" fill="#58b84c"/><path d="M0 -2.6 Q4.0 5.1 8.9 10.3 L5.5 11.0 L4.1 13.8 L1.1 11.8 L-2.0 14.2 L-4.5 11.4 L-6.1 13.0 L-8.9 9.8 Q-4.0 5.1 0 -2.6 Z" fill="#176b2c"/><path d="M-0.5 -0.1 L2.7 7.8 L-0.7 9.6 L-3.2 10.2 L-6.6 8.2 Z" fill="#2c913d"/><path d="M-1.2 1.6 L0.7 7.4 L-2.3 8.6 L-5.0 6.6 Z" fill="#58b84c"/><path d="M0 0.0 Q2.6 3.2 5.7 3.9 L3.5 4.6 L2.6 7.4 L0.7 5.4 L-1.3 7.8 L-2.9 5.0 L-3.9 6.6 L-5.7 3.4 Q-2.6 3.2 0 0.0 Z" fill="#176b2c"/><path d="M-0.5 2.5 L1.7 1.4 L-0.5 3.2 L-2.1 3.8 L-4.2 1.8 Z" fill="#2c913d"/><path d="M-1.2 4.2 L0.5 1.0 L-1.5 2.2 L-3.2 0.2 Z" fill="#58b84c"/>
</g>
<g transform="translate(588.2 306.6) scale(1.000)">
<path d="M-3.4 0 Q-1.8 -10 -2.4 -21 L-7.8 -26.4 L-6.6 -28 L-1.2 -25 L1.2 -36 L5.6 -36 L3.2 -22 Q2.6 -10 3.4 0 Q0 1 -3.4 0 Z" fill="#8c4c2b"/>
<use href="#crown"/>
</g>
<g transform="translate(643.7 341.5) scale(1.000)">
<path d="M-3.4 0 Q-1.8 -10 -2.4 -21 L-7.8 -26.4 L-6.6 -28 L-1.2 -25 L1.2 -36 L5.6 -36 L3.2 -22 Q2.6 -10 3.4 0 Q0 1 -3.4 0 Z" fill="#8c4c2b"/>
<use href="#crown"/>
</g>
<g transform="translate(688.9 364.3) scale(1.000)">
<clipPath id="trc4"><rect x="-40" y="-100" width="80" height="78.5"/></clipPath>
<path d="M-3.4 0 Q-1.8 -10 -2.4 -21 L-7.8 -26.4 L-6.6 -28 L-1.2 -25 L1.2 -36 L5.6 -36 L3.2 -22 Q2.6 -10 3.4 0 Q0 1 -3.4 0 Z" fill="#8c4c2b" clip-path="url(#trc4)"/>
<use href="#crown"/>
</g>
<g transform="translate(777.5 292.3) scale(1.000)">
<path d="M-3.8 68 L-3.8 63 Q0 58.5 4 63 L4 68 Z" fill="#a23a0e"/>
<path d="M0 46.0 Q8.8 54.8 19.5 61.0 L12.1 61.7 L9.0 64.5 L2.3 62.5 L-4.3 64.9 L-9.8 62.1 L-13.3 63.7 L-19.5 60.5 Q-8.8 54.8 0 46.0 Z" fill="#176b2c"/><path d="M-0.5 48.5 L5.8 58.5 L-1.6 60.3 L-7.0 60.9 L-14.4 58.9 Z" fill="#2c913d"/><path d="M-1.2 50.2 L1.6 58.1 L-5.1 59.3 L-10.9 57.3 Z" fill="#58b84c"/><path d="M0 37.3 Q9.9 46.1 22.0 52.5 L13.6 53.2 L10.1 56.0 L2.6 54.0 L-4.8 56.4 L-11.0 53.6 L-15.0 55.2 L-22.0 52.0 Q-9.9 46.1 0 37.3 Z" fill="#176b2c"/><path d="M-0.5 39.8 L6.6 50.0 L-1.8 51.8 L-7.9 52.4 L-16.3 50.4 Z" fill="#2c913d"/><path d="M-1.2 41.5 L1.8 49.6 L-5.7 50.8 L-12.3 48.8 Z" fill="#58b84c"/><path d="M0 27.2 Q9.2 36.8 20.5 43.8 L12.7 44.5 L9.4 47.3 L2.5 45.3 L-4.5 47.7 L-10.2 44.9 L-13.9 46.5 L-20.5 43.3 Q-9.2 36.8 0 27.2 Z" fill="#176b2c"/><path d="M-0.5 29.7 L6.1 41.3 L-1.6 43.1 L-7.4 43.7 L-15.2 41.7 Z" fill="#2c913d"/><path d="M-1.2 31.4 L1.6 40.9 L-5.3 42.1 L-11.5 40.1 Z" fill="#58b84c"/><path d="M0 19.0 Q7.4 27.6 16.5 33.7 L10.2 34.4 L7.6 37.2 L2.0 35.2 L-3.6 37.6 L-8.2 34.8 L-11.2 36.4 L-16.5 33.2 Q-7.4 27.6 0 19.0 Z" fill="#176b2c"/><path d="M-0.5 21.5 L5.0 31.2 L-1.3 33.0 L-5.9 33.6 L-12.2 31.6 Z" fill="#2c913d"/><path d="M-1.2 23.2 L1.3 30.8 L-4.3 32.0 L-9.2 30.0 Z" fill="#58b84c"/><path d="M0 11.4 Q6.1 19.7 13.5 25.5 L8.4 26.2 L6.2 29.0 L1.6 27.0 L-3.0 29.4 L-6.8 26.6 L-9.2 28.2 L-13.5 25.0 Q-6.1 19.7 0 11.4 Z" fill="#176b2c"/><path d="M-0.5 13.9 L4.0 23.0 L-1.1 24.8 L-4.9 25.4 L-10.0 23.4 Z" fill="#2c913d"/><path d="M-1.2 15.6 L1.1 22.6 L-3.5 23.8 L-7.6 21.8 Z" fill="#58b84c"/><path d="M0 3.8 Q5.1 12.1 11.4 17.9 L7.1 18.6 L5.2 21.4 L1.4 19.4 L-2.5 21.8 L-5.7 19.0 L-7.8 20.6 L-11.4 17.4 Q-5.1 12.1 0 3.8 Z" fill="#176b2c"/><path d="M-0.5 6.3 L3.4 15.4 L-0.9 17.2 L-4.1 17.8 L-8.4 15.8 Z" fill="#2c913d"/><path d="M-1.2 8.0 L0.9 15.0 L-3.0 16.2 L-6.4 14.2 Z" fill="#58b84c"/><path d="M0 -2.6 Q4.0 5.1 8.9 10.3 L5.5 11.0 L4.1 13.8 L1.1 11.8 L-2.0 14.2 L-4.5 11.4 L-6.1 13.0 L-8.9 9.8 Q-4.0 5.1 0 -2.6 Z" fill="#176b2c"/><path d="M-0.5 -0.1 L2.7 7.8 L-0.7 9.6 L-3.2 10.2 L-6.6 8.2 Z" fill="#2c913d"/><path d="M-1.2 1.6 L0.7 7.4 L-2.3 8.6 L-5.0 6.6 Z" fill="#58b84c"/><path d="M0 0.0 Q2.6 3.2 5.7 3.9 L3.5 4.6 L2.6 7.4 L0.7 5.4 L-1.3 7.8 L-2.9 5.0 L-3.9 6.6 L-5.7 3.4 Q-2.6 3.2 0 0.0 Z" fill="#176b2c"/><path d="M-0.5 2.5 L1.7 1.4 L-0.5 3.2 L-2.1 3.8 L-4.2 1.8 Z" fill="#2c913d"/><path d="M-1.2 4.2 L0.5 1.0 L-1.5 2.2 L-3.2 0.2 Z" fill="#58b84c"/>
</g>
<g transform="translate(807.3 310.2) scale(1.000)">
<path d="M-3.8 68 L-3.8 63 Q0 58.5 4 63 L4 68 Z" fill="#a23a0e"/>
<path d="M0 46.0 Q8.8 54.8 19.5 61.0 L12.1 61.7 L9.0 64.5 L2.3 62.5 L-4.3 64.9 L-9.8 62.1 L-13.3 63.7 L-19.5 60.5 Q-8.8 54.8 0 46.0 Z" fill="#176b2c"/><path d="M-0.5 48.5 L5.8 58.5 L-1.6 60.3 L-7.0 60.9 L-14.4 58.9 Z" fill="#2c913d"/><path d="M-1.2 50.2 L1.6 58.1 L-5.1 59.3 L-10.9 57.3 Z" fill="#58b84c"/><path d="M0 37.3 Q9.9 46.1 22.0 52.5 L13.6 53.2 L10.1 56.0 L2.6 54.0 L-4.8 56.4 L-11.0 53.6 L-15.0 55.2 L-22.0 52.0 Q-9.9 46.1 0 37.3 Z" fill="#176b2c"/><path d="M-0.5 39.8 L6.6 50.0 L-1.8 51.8 L-7.9 52.4 L-16.3 50.4 Z" fill="#2c913d"/><path d="M-1.2 41.5 L1.8 49.6 L-5.7 50.8 L-12.3 48.8 Z" fill="#58b84c"/><path d="M0 27.2 Q9.2 36.8 20.5 43.8 L12.7 44.5 L9.4 47.3 L2.5 45.3 L-4.5 47.7 L-10.2 44.9 L-13.9 46.5 L-20.5 43.3 Q-9.2 36.8 0 27.2 Z" fill="#176b2c"/><path d="M-0.5 29.7 L6.1 41.3 L-1.6 43.1 L-7.4 43.7 L-15.2 41.7 Z" fill="#2c913d"/><path d="M-1.2 31.4 L1.6 40.9 L-5.3 42.1 L-11.5 40.1 Z" fill="#58b84c"/><path d="M0 19.0 Q7.4 27.6 16.5 33.7 L10.2 34.4 L7.6 37.2 L2.0 35.2 L-3.6 37.6 L-8.2 34.8 L-11.2 36.4 L-16.5 33.2 Q-7.4 27.6 0 19.0 Z" fill="#176b2c"/><path d="M-0.5 21.5 L5.0 31.2 L-1.3 33.0 L-5.9 33.6 L-12.2 31.6 Z" fill="#2c913d"/><path d="M-1.2 23.2 L1.3 30.8 L-4.3 32.0 L-9.2 30.0 Z" fill="#58b84c"/><path d="M0 11.4 Q6.1 19.7 13.5 25.5 L8.4 26.2 L6.2 29.0 L1.6 27.0 L-3.0 29.4 L-6.8 26.6 L-9.2 28.2 L-13.5 25.0 Q-6.1 19.7 0 11.4 Z" fill="#176b2c"/><path d="M-0.5 13.9 L4.0 23.0 L-1.1 24.8 L-4.9 25.4 L-10.0 23.4 Z" fill="#2c913d"/><path d="M-1.2 15.6 L1.1 22.6 L-3.5 23.8 L-7.6 21.8 Z" fill="#58b84c"/><path d="M0 3.8 Q5.1 12.1 11.4 17.9 L7.1 18.6 L5.2 21.4 L1.4 19.4 L-2.5 21.8 L-5.7 19.0 L-7.8 20.6 L-11.4 17.4 Q-5.1 12.1 0 3.8 Z" fill="#176b2c"/><path d="M-0.5 6.3 L3.4 15.4 L-0.9 17.2 L-4.1 17.8 L-8.4 15.8 Z" fill="#2c913d"/><path d="M-1.2 8.0 L0.9 15.0 L-3.0 16.2 L-6.4 14.2 Z" fill="#58b84c"/><path d="M0 -2.6 Q4.0 5.1 8.9 10.3 L5.5 11.0 L4.1 13.8 L1.1 11.8 L-2.0 14.2 L-4.5 11.4 L-6.1 13.0 L-8.9 9.8 Q-4.0 5.1 0 -2.6 Z" fill="#176b2c"/><path d="M-0.5 -0.1 L2.7 7.8 L-0.7 9.6 L-3.2 10.2 L-6.6 8.2 Z" fill="#2c913d"/><path d="M-1.2 1.6 L0.7 7.4 L-2.3 8.6 L-5.0 6.6 Z" fill="#58b84c"/><path d="M0 0.0 Q2.6 3.2 5.7 3.9 L3.5 4.6 L2.6 7.4 L0.7 5.4 L-1.3 7.8 L-2.9 5.0 L-3.9 6.6 L-5.7 3.4 Q-2.6 3.2 0 0.0 Z" fill="#176b2c"/><path d="M-0.5 2.5 L1.7 1.4 L-0.5 3.2 L-2.1 3.8 L-4.2 1.8 Z" fill="#2c913d"/><path d="M-1.2 4.2 L0.5 1.0 L-1.5 2.2 L-3.2 0.2 Z" fill="#58b84c"/>
</g>
<g transform="translate(840.7 325.7) scale(1.000)">
<path d="M-3.8 68 L-3.8 63 Q0 58.5 4 63 L4 68 Z" fill="#a23a0e"/>
<path d="M0 46.0 Q8.8 54.8 19.5 61.0 L12.1 61.7 L9.0 64.5 L2.3 62.5 L-4.3 64.9 L-9.8 62.1 L-13.3 63.7 L-19.5 60.5 Q-8.8 54.8 0 46.0 Z" fill="#176b2c"/><path d="M-0.5 48.5 L5.8 58.5 L-1.6 60.3 L-7.0 60.9 L-14.4 58.9 Z" fill="#2c913d"/><path d="M-1.2 50.2 L1.6 58.1 L-5.1 59.3 L-10.9 57.3 Z" fill="#58b84c"/><path d="M0 37.3 Q9.9 46.1 22.0 52.5 L13.6 53.2 L10.1 56.0 L2.6 54.0 L-4.8 56.4 L-11.0 53.6 L-15.0 55.2 L-22.0 52.0 Q-9.9 46.1 0 37.3 Z" fill="#176b2c"/><path d="M-0.5 39.8 L6.6 50.0 L-1.8 51.8 L-7.9 52.4 L-16.3 50.4 Z" fill="#2c913d"/><path d="M-1.2 41.5 L1.8 49.6 L-5.7 50.8 L-12.3 48.8 Z" fill="#58b84c"/><path d="M0 27.2 Q9.2 36.8 20.5 43.8 L12.7 44.5 L9.4 47.3 L2.5 45.3 L-4.5 47.7 L-10.2 44.9 L-13.9 46.5 L-20.5 43.3 Q-9.2 36.8 0 27.2 Z" fill="#176b2c"/><path d="M-0.5 29.7 L6.1 41.3 L-1.6 43.1 L-7.4 43.7 L-15.2 41.7 Z" fill="#2c913d"/><path d="M-1.2 31.4 L1.6 40.9 L-5.3 42.1 L-11.5 40.1 Z" fill="#58b84c"/><path d="M0 19.0 Q7.4 27.6 16.5 33.7 L10.2 34.4 L7.6 37.2 L2.0 35.2 L-3.6 37.6 L-8.2 34.8 L-11.2 36.4 L-16.5 33.2 Q-7.4 27.6 0 19.0 Z" fill="#176b2c"/><path d="M-0.5 21.5 L5.0 31.2 L-1.3 33.0 L-5.9 33.6 L-12.2 31.6 Z" fill="#2c913d"/><path d="M-1.2 23.2 L1.3 30.8 L-4.3 32.0 L-9.2 30.0 Z" fill="#58b84c"/><path d="M0 11.4 Q6.1 19.7 13.5 25.5 L8.4 26.2 L6.2 29.0 L1.6 27.0 L-3.0 29.4 L-6.8 26.6 L-9.2 28.2 L-13.5 25.0 Q-6.1 19.7 0 11.4 Z" fill="#176b2c"/><path d="M-0.5 13.9 L4.0 23.0 L-1.1 24.8 L-4.9 25.4 L-10.0 23.4 Z" fill="#2c913d"/><path d="M-1.2 15.6 L1.1 22.6 L-3.5 23.8 L-7.6 21.8 Z" fill="#58b84c"/><path d="M0 3.8 Q5.1 12.1 11.4 17.9 L7.1 18.6 L5.2 21.4 L1.4 19.4 L-2.5 21.8 L-5.7 19.0 L-7.8 20.6 L-11.4 17.4 Q-5.1 12.1 0 3.8 Z" fill="#176b2c"/><path d="M-0.5 6.3 L3.4 15.4 L-0.9 17.2 L-4.1 17.8 L-8.4 15.8 Z" fill="#2c913d"/><path d="M-1.2 8.0 L0.9 15.0 L-3.0 16.2 L-6.4 14.2 Z" fill="#58b84c"/><path d="M0 -2.6 Q4.0 5.1 8.9 10.3 L5.5 11.0 L4.1 13.8 L1.1 11.8 L-2.0 14.2 L-4.5 11.4 L-6.1 13.0 L-8.9 9.8 Q-4.0 5.1 0 -2.6 Z" fill="#176b2c"/><path d="M-0.5 -0.1 L2.7 7.8 L-0.7 9.6 L-3.2 10.2 L-6.6 8.2 Z" fill="#2c913d"/><path d="M-1.2 1.6 L0.7 7.4 L-2.3 8.6 L-5.0 6.6 Z" fill="#58b84c"/><path d="M0 0.0 Q2.6 3.2 5.7 3.9 L3.5 4.6 L2.6 7.4 L0.7 5.4 L-1.3 7.8 L-2.9 5.0 L-3.9 6.6 L-5.7 3.4 Q-2.6 3.2 0 0.0 Z" fill="#176b2c"/><path d="M-0.5 2.5 L1.7 1.4 L-0.5 3.2 L-2.1 3.8 L-4.2 1.8 Z" fill="#2c913d"/><path d="M-1.2 4.2 L0.5 1.0 L-1.5 2.2 L-3.2 0.2 Z" fill="#58b84c"/>
</g>
<g transform="translate(748.9 406.4) scale(1.000)">
<path d="M-3.4 0 Q-1.8 -10 -2.4 -21 L-7.8 -26.4 L-6.6 -28 L-1.2 -25 L1.2 -36 L5.6 -36 L3.2 -22 Q2.6 -10 3.4 0 Q0 1 -3.4 0 Z" fill="#8c4c2b"/>
<use href="#crown"/>
</g>
<g transform="translate(801.3 426.8) scale(1.000)">
<path d="M-3.4 0 Q-1.8 -10 -2.4 -21 L-7.8 -26.4 L-6.6 -28 L-1.2 -25 L1.2 -36 L5.6 -36 L3.2 -22 Q2.6 -10 3.4 0 Q0 1 -3.4 0 Z" fill="#8c4c2b"/>
<use href="#crown"/>
</g>
<polygon points="461.6,353.3 474.9,359.5 474.9,401.0 461.6,394.4" fill="#f4f4f4" />
<polygon points="474.9,359.5 529.3,333.3 529.3,376.6 474.9,401.0" fill="#ececec" />
<polygon points="476.7,366.6 525.5,344.4 525.5,367.7 476.7,389.9" fill="#d9eef9" />
<polygon points="476.7,373.3 525.5,351.1 525.5,367.7 476.7,389.9" fill="#c6e6f6" />
<polyline points="476.7,389.9 525.5,367.7" fill="none" stroke="#2d8fd3" stroke-width="1.0" />
<polygon points="461.6,394.4 474.9,401.0 474.9,402.6 461.6,395.9" fill="#d4d4d4" />
<polygon points="474.9,401.0 529.3,376.6 529.3,378.2 474.9,402.6" fill="#c9c9c9" />
<path d="M437.5 345.0 C433.4 342.2 433.7 338.3 438.2 336.2 L484.9 314.6 C489.4 312.5 496.7 312.7 501.1 314.9 L526.8 327.7 C531.2 329.9 531.3 333.6 526.8 335.8 L476.3 361.6 C471.8 363.9 464.9 363.4 460.8 360.7 Z" fill="#f6f9fc"/>
<clipPath id="rs548"><rect x="468.2" y="0" width="400" height="700"/></clipPath>
<path d="M437.5 345.0 C433.4 342.2 433.7 338.3 438.2 336.2 L484.9 314.6 C489.4 312.5 496.7 312.7 501.1 314.9 L526.8 327.7 C531.2 329.9 531.3 333.6 526.8 335.8 L476.3 361.6 C471.8 363.9 464.9 363.4 460.8 360.7 Z" fill="#e4ecf3" clip-path="url(#rs548)"/>
<path d="M437.5 340.8 C433.4 338.0 433.7 334.1 438.2 332.0 L484.9 310.4 C489.4 308.3 496.7 308.5 501.1 310.7 L526.8 323.5 C531.2 325.7 531.3 329.4 526.8 331.6 L476.3 357.4 C471.8 359.7 464.9 359.2 460.8 356.5 Z" fill="#eaf3fa"/>
<path d="M437.5 341.2 C433.4 338.4 433.7 334.5 438.2 332.4 L484.9 310.8 C489.4 308.7 496.7 308.9 501.1 311.1 L526.8 323.9 C531.2 326.1 531.3 329.8 526.8 332.0 L476.3 357.8 C471.8 360.1 464.9 359.6 460.8 356.9 Z" fill="#1a78bd"/>
<path d="M437.5 339.2 C433.4 336.4 433.7 332.5 438.2 330.4 L484.9 308.8 C489.4 306.7 496.7 306.9 501.1 309.1 L526.8 321.9 C531.2 324.1 531.3 327.8 526.8 330.0 L476.3 355.8 C471.8 358.1 464.9 357.6 460.8 354.9 Z" fill="#0d84cb"/>
<path d="M437.5 339.2 C433.4 336.4 433.7 332.5 438.2 330.4 L484.9 308.8 C489.4 306.7 496.7 306.9 501.1 309.1 L526.8 321.9 C531.2 324.1 531.3 327.8 526.8 330.0 L476.3 355.8 C471.8 358.1 464.9 357.6 460.8 354.9 Z" fill="none" stroke="#4fb0e6" stroke-width="0.9"/>
<path d="M518.4 408.1 C516.0 406.8 516.0 404.8 518.5 403.7 L567.6 380.0 C570.1 378.8 573.9 379.3 576.0 381.0 L577.6 382.2 C579.7 384.0 579.5 386.5 577.1 387.8 L533.9 411.4 C531.5 412.7 527.5 412.8 525.1 411.5 Z" fill="#cfcfcf"/>
<path d="M518.4 405.3 C516.0 404.0 516.0 402.0 518.5 400.9 L567.6 377.2 C570.1 376.0 573.9 376.5 576.0 378.2 L577.6 379.4 C579.7 381.2 579.5 383.7 577.1 385.0 L533.9 408.6 C531.5 409.9 527.5 410.0 525.1 408.7 Z" fill="#efefef"/>
<polygon points="572.1,363.3 577.0,363.3 577.0,382.6 572.1,382.6" fill="#f6f6f6" />
<polygon points="575.2,363.3 577.0,363.3 577.0,382.6 575.2,382.6" fill="#d8d8d8" />
<path d="M532.1 401.0 L532.1 390.0 Q535.3 383.5 538.5 390.0 L538.5 401.0 Z" fill="#c8242c"/>
<rect x="534.7" y="391.0" width="2.6" height="6.5" fill="#f3e9e6"/>
<rect x="534.5" y="384.8" width="1.6" height="2" fill="#c8242c"/>
<path d="M549.8 391.0 L549.8 380.0 Q553.0 373.5 556.2 380.0 L556.2 391.0 Z" fill="#c8242c"/>
<rect x="552.4" y="381.0" width="2.6" height="6.5" fill="#f3e9e6"/>
<rect x="552.2" y="374.8" width="1.6" height="2" fill="#c8242c"/>
<path d="M562.1 384.4 L562.1 373.4 Q565.3 366.9 568.5 373.4 L568.5 384.4 Z" fill="#c8242c"/>
<rect x="564.7" y="374.4" width="2.6" height="6.5" fill="#f3e9e6"/>
<rect x="564.5" y="368.2" width="1.6" height="2" fill="#c8242c"/>
<polygon points="543.7,370.6 548.6,370.6 548.6,398.1 543.7,398.1" fill="#f6f6f6" />
<polygon points="546.8,370.6 548.6,370.6 548.6,398.1 546.8,398.1" fill="#d8d8d8" />
<path d="M497.8 358.5 C494.7 357.4 494.6 355.3 497.6 353.9 L527.2 339.9 C530.2 338.5 535.0 338.5 538.0 339.9 L574.3 357.0 C577.3 358.4 577.3 360.8 574.3 362.3 L551.7 373.7 C548.8 375.2 543.9 375.5 540.8 374.3 Z" fill="#ffffff"/>
<path d="M497.8 357.2 C494.7 356.1 494.6 354.0 497.6 352.6 L527.2 338.6 C530.2 337.2 535.0 337.2 538.0 338.6 L574.3 355.7 C577.3 357.1 577.3 359.5 574.3 361.0 L551.7 372.4 C548.8 373.9 543.9 374.2 540.8 373.0 Z" fill="#2b8fd3"/>
<path d="M497.8 356.1 C494.7 355.0 494.6 352.9 497.6 351.5 L527.2 337.5 C530.2 336.1 535.0 336.1 538.0 337.5 L574.3 354.6 C577.3 356.0 577.3 358.4 574.3 359.9 L551.7 371.3 C548.8 372.8 543.9 373.1 540.8 371.9 Z" fill="#ffffff"/>
<path d="M497.8 354.9 C494.7 353.8 494.6 351.7 497.6 350.3 L527.2 336.3 C530.2 334.9 535.0 334.9 538.0 336.3 L574.3 353.4 C577.3 354.8 577.3 357.2 574.3 358.7 L551.7 370.1 C548.8 371.6 543.9 371.9 540.8 370.7 Z" fill="#e3e3e3" stroke="#2b8fd3" stroke-width="0.6"/>
<g transform="translate(505.2 420.8) scale(0.570 0.565)" fill="#f5281b">
<rect x="-12.8" y="-3.8" width="25.6" height="3.8"/>
<rect x="-9.2" y="-35" width="18.4" height="32"/>
<rect x="-15.6" y="-34.3" width="31.2" height="11.4" rx="1.2"/>
<rect x="-17.6" y="-32.4" width="35.2" height="7.6" rx="1"/>
<path d="M-11.2 -34 L-11.2 -38 Q-10 -44 -3 -45.4 L-2.2 -46.4 L2.2 -46.4 L3 -45.4 Q10 -44 11.2 -38 L11.2 -34 Z"/>
</g>
<g transform="translate(-86.4 183.3)">
<polygon points="508.8,197.0 547.6,178.0 547.6,229.9 508.8,251.0" fill="#a99a83" />
<polygon points="451.3,177.5 481.1,169.5 508.8,197.5 508.8,251.0 451.3,223.0" fill="#d3c5ad" />
<polygon points="451.3,177.5 454.3,178.5 454.3,224.5 451.3,223.0" fill="#ece2cf" />
<polygon points="505.2,196.0 508.8,197.5 508.8,251.0 505.2,249.3" fill="#ece2cf" />
<polygon points="508.8,197.5 511.8,196.1 511.8,249.4 508.8,251.0" fill="#cdbfa6" />
<polygon points="544.8,179.3 547.6,178.0 547.6,229.9 544.8,231.4" fill="#cdbfa6" />
<path d="M517.6 237.8 L517.6 216 Q517.8 209.5 528 206.8 L539.6 203.8 L539.6 226.5 Z" fill="#ece2cf" />
<path d="M519.6 234.6 L519.6 217 Q519.8 211.5 528.5 209.2 L537.6 206.8 L537.6 225.4 Z" fill="#a9d5ee" />
<polygon points="519.6,222.0 537.6,212.0 537.6,225.4 519.6,234.6" fill="#c4e4f6" />
<polygon points="464.5,198.3 492.6,208.6 492.6,243.2 464.5,229.5" fill="#ece2cf" />
<polygon points="466.2,200.6 491.0,209.8 491.0,242.4 466.2,230.3" fill="#b5333a" />
<polygon points="468.3,204.0 477.3,207.4 477.3,235.0 468.3,230.6" fill="#bfe5f7" />
<polygon points="479.6,208.3 488.8,211.8 488.8,240.6 479.6,236.1" fill="#bfe5f7" />
<polygon points="464.5,186.3 494.0,197.2 494.0,203.8 464.5,192.9" fill="#ece2cf" />
<polygon points="466.6,189.6 477.0,193.4 477.0,196.2 466.6,192.4" fill="#3a3530" />
<polygon points="480.4,194.7 491.6,198.8 491.6,201.6 480.4,197.5" fill="#3a3530" />
<path d="M475.6 186.4 L475.6 180 Q476 174.6 480.6 174.4 Q485.2 174.8 485.6 181 L485.6 187.6 Z" fill="#f0e8d8" />
<path d="M476.8 185.6 L476.8 180.2 Q477.2 176 480.6 175.8 Q484 176.2 484.4 181.2 L484.4 186.6 Z" fill="#3a3530" />
<polyline points="476.8,177.7 484.4,178.7" fill="none" stroke="#d8cdb8" stroke-width="0.8" />
<polyline points="476.8,180.1 484.4,181.1" fill="none" stroke="#d8cdb8" stroke-width="0.8" />
<polyline points="476.8,182.5 484.4,183.5" fill="none" stroke="#d8cdb8" stroke-width="0.8" />
<polyline points="476.8,184.7 484.4,185.7" fill="none" stroke="#d8cdb8" stroke-width="0.8" />
<polygon points="447.6,176.0 481.1,168.2 522.2,153.6 493.0,153.4" fill="#aa826d" />
<polygon points="481.1,168.2 522.2,153.6 548.4,177.6 509.3,197.8" fill="#8b6455" />
<polyline points="447.6,176.4 481.1,168.8 509.3,198.2" fill="none" stroke="#efe6d6" stroke-width="1.3" />
<polygon points="493.6,152.2 501.7,156.4 501.7,166.8 493.6,162.4" fill="#cbbba2" />
<polygon points="501.7,156.4 508.4,152.2 508.4,162.4 501.7,166.8" fill="#a6957c" />
<path d="M495.2 160 L495.2 157 Q497.5 154.2 500 158 L500 162.4 Z" fill="#3a3530" />
<path d="M503 162.6 L503 158.4 Q505 154.4 507.2 155.6 L507.2 160 Z" fill="#2e2a26" />
<polygon points="493.8,152.6 500.6,143.2 501.7,156.8" fill="#a8725f" />
<polygon points="501.7,156.8 500.6,143.2 508.2,152.4" fill="#8a5a4a" />
<polygon points="510.0,196.9 512.9,195.5 526.8,208.2 523.9,209.7" fill="#1f6db3" />
<polygon points="523.9,209.7 526.8,208.2 526.8,210.8 523.9,212.3" fill="#1d66ab" />
<polygon points="512.9,195.5 515.8,194.1 529.7,206.7 526.8,208.2" fill="#ffffff" />
<polygon points="526.8,208.2 529.7,206.7 529.7,209.3 526.8,210.8" fill="#1d66ab" />
<polygon points="515.8,194.1 518.6,192.7 532.6,205.1 529.7,206.7" fill="#1f6db3" />
<polygon points="529.7,206.7 532.6,205.1 532.6,207.7 529.7,209.3" fill="#1d66ab" />
<polygon points="518.6,192.7 521.5,191.2 535.6,203.6 532.6,205.1" fill="#ffffff" />
<polygon points="532.6,205.1 535.6,203.6 535.6,206.2 532.6,207.7" fill="#1d66ab" />
<polygon points="521.5,191.2 524.4,189.8 538.5,202.1 535.6,203.6" fill="#1f6db3" />
<polygon points="535.6,203.6 538.5,202.1 538.5,204.7 535.6,206.2" fill="#1d66ab" />
<polygon points="524.4,189.8 527.3,188.4 541.4,200.6 538.5,202.1" fill="#ffffff" />
<polygon points="538.5,202.1 541.4,200.6 541.4,203.2 538.5,204.7" fill="#1d66ab" />
<polygon points="527.3,188.4 530.1,187.0 544.3,199.0 541.4,200.6" fill="#1f6db3" />
<polygon points="541.4,200.6 544.3,199.0 544.3,201.6 541.4,203.2" fill="#1d66ab" />
<polygon points="530.1,187.0 533.0,185.6 547.2,197.5 544.3,199.0" fill="#ffffff" />
<polygon points="544.3,199.0 547.2,197.5 547.2,200.1 544.3,201.6" fill="#1d66ab" />
<polygon points="533.0,185.6 535.9,184.2 550.1,196.0 547.2,197.5" fill="#1f6db3" />
<polygon points="547.2,197.5 550.1,196.0 550.1,198.6 547.2,200.1" fill="#1d66ab" />
<polygon points="535.9,184.2 538.8,182.7 553.1,194.5 550.1,196.0" fill="#ffffff" />
<polygon points="550.1,196.0 553.1,194.5 553.1,197.1 550.1,198.6" fill="#1d66ab" />
<polygon points="538.8,182.7 541.6,181.3 556.0,192.9 553.1,194.5" fill="#1f6db3" />
<polygon points="553.1,194.5 556.0,192.9 556.0,195.5 553.1,197.1" fill="#1d66ab" />
<polygon points="541.6,181.3 544.5,179.9 558.9,191.4 556.0,192.9" fill="#ffffff" />
<polygon points="556.0,192.9 558.9,191.4 558.9,194.0 556.0,195.5" fill="#1d66ab" />
<polygon points="544.5,179.9 547.4,178.5 561.8,189.9 558.9,191.4" fill="#1f6db3" />
<polygon points="558.9,191.4 561.8,189.9 561.8,192.5 558.9,194.0" fill="#1d66ab" />
<polygon points="510.0,196.9 523.9,209.7 523.9,212.3" fill="#164f88" />
</g>
<polygon points="524.9,452.3 559.9,436.4 595.7,453.2 561.2,469.4" fill="#ecd09c" />
<polygon points="524.9,452.3 561.2,469.0 561.2,502.6 524.9,486.7" fill="#f5dbab" />
<polyline points="524.9,452.3 561.2,469.4" fill="none" stroke="#fbeac8" stroke-width="0.8" />
<polygon points="532.0,464.9 559.9,478.0 559.9,501.6 532.0,489.5" fill="#8d8d8d" />
<polygon points="532.0,464.9 536.1,466.8 536.1,491.4 532.0,489.5" fill="#a5a5a5" />
<polygon points="521.6,480.6 530.5,470.9 550.1,474.3 556.6,478.4 556.6,489.5 543.5,497.0 537.9,502.2 521.6,494.2" fill="#b5161f" />
<polygon points="530.5,470.9 550.1,474.3 556.6,478.4 539.8,480.2" fill="#c9212b" />
<polygon points="521.6,480.6 530.5,470.9 539.8,480.2 537.9,489.5 537.9,502.2 521.6,494.2" fill="#c31c26" />
<polygon points="523.0,482.1 536.1,488.0 534.6,494.2 522.3,489.2" fill="#b9e3f4" />
<polygon points="539.8,484.3 548.2,480.2 548.2,488.6 539.4,492.9" fill="#a9d9ee" />
<polygon points="521.6,491.4 537.9,498.8 537.9,502.2 521.6,494.7" fill="#8f0f18" />
<polyline points="521.6,491.4 537.9,498.8 556.6,489.2" fill="none" stroke="#ffffff" stroke-width="0.8" />
<polygon points="539.8,480.2 556.6,478.4 556.6,482.1 550.1,483.0" fill="#9d111a" />
<circle cx="542.8" cy="497.4" r="3.2" fill="#2b2b2b"/>
<circle cx="542.8" cy="497.4" r="1.6" fill="#d9d9d9"/>
<polygon points="561.2,457.9 596.1,442.6 645.5,466.8 611.5,482.4" fill="#eaca92" />
<polygon points="561.2,457.9 611.5,482.4 611.5,526.2 561.2,502.2" fill="#f4d8a6" />
<polygon points="611.5,482.4 645.5,466.8 645.5,509.3 611.5,526.2" fill="#dbb068" />
<polyline points="561.2,458.0 611.5,482.4 645.5,467.0" fill="none" stroke="#fbeac8" stroke-width="0.8" />
<polygon points="565.2,467.5 607.6,487.7 607.6,522.1 565.2,501.6" fill="#f9ebcd" />
<polygon points="566.6,469.8 606.3,488.6 606.3,520.5 566.6,501.1" fill="#b5121b" />
<polygon points="566.6,469.8 606.3,488.6 606.3,514.7 566.6,495.5" fill="#d2ebf7" />
<polygon points="566.6,469.8 606.3,488.6 606.3,494.2 566.6,475.4" fill="#e0f2fb" />
<polygon points="572.6,448.2 577.1,450.4 577.1,461.2 572.6,459.3" fill="#f0d4a0" />
<polygon points="603.2,463.8 607.8,466.1 607.8,476.5 603.2,474.3" fill="#f0d4a0" />
<polygon points="560.3,437.4 583.0,427.7 637.1,452.3 613.6,462.7" fill="#c9222f" />
<polygon points="560.3,437.4 613.6,462.7 613.6,467.5 560.3,442.2" fill="#b31a26" />
<polygon points="613.6,462.7 637.1,452.3 644.2,463.8 640.4,469.0 625.5,463.1 613.6,467.5" fill="#9c1520" />
<polygon points="696.1,421.7 738.2,400.8 738.2,455.6 696.1,475.0" fill="#adadad" />
<polygon points="696.1,469.6 738.2,450.2 738.2,455.6 696.1,475.0" fill="#1f3c8c" />
<polygon points="618.2,382.0 696.1,421.7 696.1,475.0 618.2,436.3" fill="#f3f3f3" />
<polygon points="618.2,430.8 696.1,469.6 696.1,475.0 618.2,436.3" fill="#1f3c8c" />
<polygon points="618.2,381.0 658.3,361.2 738.2,400.4 696.1,421.3" fill="#efefef" />
<polyline points="618.2,381.6 696.1,421.7 738.2,400.8" fill="none" stroke="#1f3c8c" stroke-width="1.3" />
<polygon points="622.1,390.3 637.6,398.1 637.6,414.0 622.1,406.2" fill="#c7d8d4" />
<polyline points="622.1,395.6 637.6,403.3" fill="none" stroke="#eef4f2" stroke-width="0.9" />
<polyline points="622.1,400.8 637.6,408.6" fill="none" stroke="#eef4f2" stroke-width="0.9" />
<polygon points="622.1,390.3 637.6,398.1 637.6,414.0 622.1,406.2" fill="none" stroke="#9aa7a4" stroke-width="0.5"/>
<polygon points="622.1,412.4 637.6,420.2 637.6,436.1 622.1,428.3" fill="#c7d8d4" />
<polyline points="622.1,417.7 637.6,425.4" fill="none" stroke="#eef4f2" stroke-width="0.9" />
<polyline points="622.1,422.9 637.6,430.7" fill="none" stroke="#eef4f2" stroke-width="0.9" />
<polygon points="622.1,412.4 637.6,420.2 637.6,436.1 622.1,428.3" fill="none" stroke="#9aa7a4" stroke-width="0.5"/>
<polygon points="674.8,416.9 691.3,425.1 691.3,441.6 674.8,433.3" fill="#c7d8d4" />
<polyline points="674.8,422.3 691.3,430.5" fill="none" stroke="#eef4f2" stroke-width="0.9" />
<polyline points="674.8,427.7 691.3,436.0" fill="none" stroke="#eef4f2" stroke-width="0.9" />
<polygon points="674.8,416.9 691.3,425.1 691.3,441.6 674.8,433.3" fill="none" stroke="#9aa7a4" stroke-width="0.5"/>
<polygon points="674.8,438.8 691.3,447.0 691.3,463.5 674.8,455.3" fill="#c7d8d4" />
<polyline points="674.8,444.2 691.3,452.5" fill="none" stroke="#eef4f2" stroke-width="0.9" />
<polyline points="674.8,449.7 691.3,457.9" fill="none" stroke="#eef4f2" stroke-width="0.9" />
<polygon points="674.8,438.8 691.3,447.0 691.3,463.5 674.8,455.3" fill="none" stroke="#9aa7a4" stroke-width="0.5"/>
<polygon points="641.4,400.8 667.0,413.6 667.0,441.1 641.4,428.5" fill="#f6f6f6" />
<polygon points="667.0,413.6 671.9,411.3 671.9,438.8 667.0,441.1" fill="#d0d0d0" />
<polygon points="644.3,406.6 651.3,410.1 651.3,422.1 644.3,418.6" fill="#c7d8d4" />
<polyline points="644.3,410.6 651.3,414.1" fill="none" stroke="#eef4f2" stroke-width="0.9" />
<polyline points="644.3,414.5 651.3,418.0" fill="none" stroke="#eef4f2" stroke-width="0.9" />
<polygon points="644.3,406.6 651.3,410.1 651.3,422.1 644.3,418.6" fill="none" stroke="#9aa7a4" stroke-width="0.5"/>
<polygon points="655.0,412.0 662.8,415.9 662.8,428.3 655.0,424.4" fill="#c7d8d4" />
<polyline points="655.0,416.1 662.8,420.0" fill="none" stroke="#eef4f2" stroke-width="0.9" />
<polyline points="655.0,420.2 662.8,424.1" fill="none" stroke="#eef4f2" stroke-width="0.9" />
<polygon points="655.0,412.0 662.8,415.9 662.8,428.3 655.0,424.4" fill="none" stroke="#9aa7a4" stroke-width="0.5"/>
<polygon points="640.9,391.1 661.2,381.0 687.8,393.8 667.0,404.3" fill="#dcdcdc" />
<polygon points="640.9,391.1 667.0,404.3 667.0,407.8 640.9,394.6" fill="#1f3c8c" />
<polygon points="667.0,404.3 687.8,393.8 687.8,397.3 667.0,407.8" fill="#172e6e" />
<polygon points="640.9,398.5 667.0,411.6 667.0,413.6 640.9,400.4" fill="#1f3c8c" />
<polygon points="627.9,457.6 640.9,450.8 670.9,464.4 655.4,471.7" fill="#fafafa" />
<polygon points="627.9,457.6 655.4,471.7 655.4,474.1 627.9,459.9" fill="#d9d9d9" />
<polygon points="655.4,471.7 670.9,464.4 670.9,466.7 655.4,474.1" fill="#c4c4c4" />
<polygon points="641.8,441.1 663.2,451.8 663.2,458.5 641.8,447.9" fill="#dfe7e6" />
<polygon points="641.8,441.1 649.6,445.0 649.6,450.8 641.8,446.9" fill="#1f3c8c" />
<polygon points="638.0,443.6 640.3,443.6 640.3,464.0 638.0,464.0" fill="#e9eefb" />
<polygon points="638.0,454.3 640.3,454.3 640.3,464.0 638.0,464.0" fill="#4a68b8" />
<polygon points="653.8,451.6 656.2,451.6 656.2,471.9 653.8,471.9" fill="#e9eefb" />
<polygon points="653.8,462.2 656.2,462.2 656.2,471.9 653.8,471.9" fill="#4a68b8" />
<polygon points="634.1,429.1 650.6,424.6 671.3,434.1 659.3,441.1" fill="#d4d4d4" />
<polygon points="634.1,429.1 659.3,441.1 659.3,447.9 634.1,436.1" fill="#24439a" />
<polygon points="659.3,441.1 671.3,434.1 671.3,440.7 659.3,447.9" fill="#172e6e" />
<text transform="matrix(1 0.48 0 1 636.0 435.3)" font-size="5.6" font-weight="bold" fill="#fff" style="font-family:'Liberation Sans',sans-serif" textLength="20" lengthAdjust="spacingAndGlyphs">POLICE</text>
<polygon points="250.7,457.0 308.8,486.5 308.8,521.7 250.7,493.7" fill="#b0b9b8" />
<polygon points="250.7,493.7 308.8,521.7 308.8,525.5 250.7,497.6" fill="#9b9b9b" />
<polygon points="308.8,486.5 365.5,459.7 365.5,493.7 308.8,521.7" fill="#eeeeee" />
<polygon points="308.8,521.7 365.5,493.7 365.5,496.9 308.8,525.5" fill="#cfcfcf" />
<polygon points="262.2,468.3 268.6,471.5 268.6,497.6 262.2,494.4" fill="#cc1122" />
<polygon points="254.3,473.6 275.8,484.4 275.8,492.2 254.3,481.5" fill="#cc1122" />
<polygon points="286.8,484.4 301.7,491.9 301.7,520.8 286.8,513.3" fill="#a85c18" />
<polygon points="288.3,486.9 300.3,493.0 300.3,518.7 288.3,512.6" fill="#c2701f" />
<polygon points="289.7,489.7 298.8,494.4 298.8,503.5 289.7,498.9" fill="#b4661b" />
<polygon points="289.7,501.2 298.8,505.8 298.8,516.2 289.7,511.5" fill="#b4661b" />
<circle cx="287.6" cy="499.0" r="0.9" fill="#e8e8e8"/>
<polygon points="316.9,488.7 334.8,480.3 334.8,500.3 316.9,508.7" fill="#a0562a" />
<polygon points="318.7,489.7 333.0,483.6 333.0,499.7 318.7,506.2" fill="#f5f5f5" />
<polygon points="319.7,489.7 325.1,488.4 325.1,502.7 319.7,505.1" fill="#a9d8f0" />
<polygon points="326.5,487.7 331.9,485.2 331.9,499.5 326.5,502.0" fill="#a9d8f0" />
<polygon points="341.9,476.3 359.8,467.9 359.8,487.9 341.9,496.4" fill="#a0562a" />
<polygon points="343.7,477.4 358.0,471.3 358.0,487.4 343.7,493.8" fill="#f5f5f5" />
<polygon points="344.8,477.4 350.1,476.0 350.1,490.3 344.8,492.8" fill="#a9d8f0" />
<polygon points="351.6,475.4 356.9,472.8 356.9,487.1 351.6,489.7" fill="#a9d8f0" />
<polygon points="248.0,453.1 287.9,426.3 340.1,446.8 324.0,445.4 282.9,468.3 279.0,474.4" fill="#0a62b4" />
<polygon points="272.2,461.8 324.0,445.4 316.9,450.4 282.9,468.3" fill="#04529e" />
<polygon points="287.9,426.3 299.0,426.8 365.2,457.9 340.1,446.8" fill="#0b68bc" />
<polygon points="282.9,468.3 289.2,466.9 327.6,444.5 324.0,445.4" fill="#0a5cab" />
<polygon points="289.2,466.9 327.6,444.5 365.5,459.0 310.1,486.2" fill="#3288de" />
<polygon points="289.2,466.9 327.6,444.5 310.1,486.2" fill="#2a7ed4" />
<polyline points="327.6,444.5 310.1,486.2" fill="none" stroke="#5aa4ea" stroke-width="0.8" />
<polyline points="289.2,466.9 327.6,444.5" fill="none" stroke="#5aa4ea" stroke-width="0.6" />
<polygon points="279.7,472.6 289.2,466.9 299.9,483.3" fill="#b7c0bf" />
<polygon points="248.0,453.1 279.0,474.0 279.0,478.7 248.0,457.9" fill="#0558a8" />
<polygon points="278.3,473.6 301.7,485.4 301.7,490.1 278.3,478.3" fill="#0b63b6" />
<polygon points="289.2,466.9 310.1,486.2 310.1,490.1 301.7,490.1 301.7,485.4" fill="#1f78cf" />
<polygon points="278.3,473.6 289.2,466.9 291.1,468.6 280.4,475.4" fill="#0b63b6" />
<polygon points="301.7,485.8 365.5,459.0 365.5,463.3 301.7,490.5" fill="#0a5fb2" />
<g transform="translate(434.0 548.7) scale(1.000 1.000)" fill="#f5281b">
<rect x="-12.8" y="-3.8" width="25.6" height="3.8"/>
<rect x="-9.2" y="-35" width="18.4" height="32"/>
<rect x="-15.6" y="-34.3" width="31.2" height="11.4" rx="1.2"/>
<rect x="-17.6" y="-32.4" width="35.2" height="7.6" rx="1"/>
<path d="M-11.2 -34 L-11.2 -38 Q-10 -44 -3 -45.4 L-2.2 -46.4 L2.2 -46.4 L3 -45.4 Q10 -44 11.2 -38 L11.2 -34 Z"/>
</g>
<path d="M255.3 136.1 L263.0 153.1 L270.7 136.1 Z" fill="#d80c1a"/>
<circle cx="263.0" cy="118.4" r="19.3" fill="#d80c1a"/>
<circle cx="263.0" cy="118.4" r="12.9" fill="#fff"/>
<rect x="256.1" y="108.1" width="14.5" height="20.6" fill="#f1f4f6"/>
<circle cx="263.7" cy="118.7" r="6.3" fill="#f6f8f9" stroke="#b5d6ee" stroke-width="1.3"/>
<circle cx="262.1" cy="118.9" r="5.2" fill="#e5532b"/>
<circle cx="262.1" cy="118.9" r="3.8" fill="#396676"/>
<circle cx="262.5" cy="118.8" r="1.4" fill="#5d8b9b"/>
<path d="M262.3 127.3 h3.3 v2.3 l-0.7 2.5 h-1.9 l-0.7 -2.5 Z" fill="#161616"/>
<path d="M375.7 163.9 L384.3 184.7 L392.9 163.9 Z" fill="#d80c1a"/>
<circle cx="384.3" cy="144.3" r="21.4" fill="#d80c1a"/>
<circle cx="384.3" cy="144.3" r="15.1" fill="#fff"/>
<rect x="376.6" y="132.2" width="16.0" height="24.2" fill="#f1f4f6"/>
<circle cx="385.1" cy="144.6" r="7.0" fill="#f6f8f9" stroke="#b5d6ee" stroke-width="1.3"/>
<circle cx="383.3" cy="144.9" r="5.7" fill="#e5532b"/>
<circle cx="383.3" cy="144.9" r="4.2" fill="#396676"/>
<circle cx="383.7" cy="144.7" r="1.6" fill="#5d8b9b"/>
<path d="M383.5 154.2 h3.7 v2.5 l-0.8 2.7 h-2.1 l-0.8 -2.7 Z" fill="#161616"/>
<path d="M595.5 80.7 L603.4 98.4 L611.3 80.7 Z" fill="#d80c1a"/>
<circle cx="603.4" cy="62.7" r="19.7" fill="#d80c1a"/>
<circle cx="603.4" cy="62.7" r="13.2" fill="#fff"/>
<rect x="596.3" y="52.1" width="14.8" height="21.1" fill="#f1f4f6"/>
<circle cx="604.1" cy="63.0" r="6.4" fill="#f6f8f9" stroke="#b5d6ee" stroke-width="1.3"/>
<circle cx="602.5" cy="63.2" r="5.3" fill="#e5532b"/>
<circle cx="602.5" cy="63.2" r="3.9" fill="#396676"/>
<circle cx="602.9" cy="63.1" r="1.4" fill="#5d8b9b"/>
<path d="M602.7 71.8 h3.4 v2.3 l-0.7 2.5 h-2.0 l-0.7 -2.5 Z" fill="#161616"/>
<path d="M760.2 162.4 L769.0 182.9 L777.8 162.4 Z" fill="#d80c1a"/>
<circle cx="769.0" cy="142.3" r="22.0" fill="#d80c1a"/>
<circle cx="769.0" cy="142.3" r="15.8" fill="#fff"/>
<rect x="761.0" y="129.7" width="16.5" height="25.3" fill="#f1f4f6"/>
<circle cx="769.8" cy="142.6" r="7.2" fill="#f6f8f9" stroke="#b5d6ee" stroke-width="1.3"/>
<circle cx="768.0" cy="142.9" r="5.9" fill="#e5532b"/>
<circle cx="768.0" cy="142.9" r="4.3" fill="#396676"/>
<circle cx="768.4" cy="142.7" r="1.6" fill="#5d8b9b"/>
<path d="M768.2 152.5 h3.8 v2.6 l-0.8 2.8 h-2.2 l-0.8 -2.8 Z" fill="#161616"/>
<path d="M857.2 162.4 L866.0 182.9 L874.8 162.4 Z" fill="#d80c1a"/>
<circle cx="866.0" cy="142.3" r="22.0" fill="#d80c1a"/>
<circle cx="866.0" cy="142.3" r="15.8" fill="#fff"/>
<rect x="858.0" y="129.7" width="16.5" height="25.3" fill="#f1f4f6"/>
<circle cx="866.8" cy="142.6" r="7.2" fill="#f6f8f9" stroke="#b5d6ee" stroke-width="1.3"/>
<circle cx="865.0" cy="142.9" r="5.9" fill="#e5532b"/>
<circle cx="865.0" cy="142.9" r="4.3" fill="#396676"/>
<circle cx="865.4" cy="142.7" r="1.6" fill="#5d8b9b"/>
<path d="M865.2 152.5 h3.8 v2.6 l-0.8 2.8 h-2.2 l-0.8 -2.8 Z" fill="#161616"/>
<path d="M955.8 230.4 L964.6 250.9 L973.4 230.4 Z" fill="#d80c1a"/>
<circle cx="964.6" cy="210.2" r="22.1" fill="#d80c1a"/>
<circle cx="964.6" cy="210.2" r="16.6" fill="#fff"/>
<rect x="956.6" y="196.9" width="16.6" height="26.6" fill="#f1f4f6"/>
<circle cx="965.4" cy="210.5" r="7.2" fill="#f6f8f9" stroke="#b5d6ee" stroke-width="1.3"/>
<circle cx="963.6" cy="210.8" r="5.9" fill="#e5532b"/>
<circle cx="963.6" cy="210.8" r="4.3" fill="#396676"/>
<circle cx="964.0" cy="210.6" r="1.6" fill="#5d8b9b"/>
<path d="M963.8 220.4 h3.8 v2.6 l-0.8 2.8 h-2.2 l-0.8 -2.8 Z" fill="#161616"/>
<path d="M467.2 300.3 L476.1 320.1 L485.0 300.3 Z" fill="#d80c1a"/>
<circle cx="476.1" cy="279.9" r="22.3" fill="#d80c1a"/>
<circle cx="476.1" cy="279.9" r="16.5" fill="#fff"/>
<rect x="468.0" y="266.7" width="16.7" height="26.4" fill="#f1f4f6"/>
<circle cx="476.9" cy="280.2" r="7.3" fill="#f6f8f9" stroke="#b5d6ee" stroke-width="1.3"/>
<circle cx="475.1" cy="280.5" r="6.0" fill="#e5532b"/>
<circle cx="475.1" cy="280.5" r="4.4" fill="#396676"/>
<circle cx="475.5" cy="280.3" r="1.6" fill="#5d8b9b"/>
<path d="M475.3 290.2 h3.9 v2.6 l-0.8 2.8 h-2.2 l-0.8 -2.8 Z" fill="#161616"/>
<path d="M269.1 409.8 L278.1 430.6 L287.1 409.8 Z" fill="#d80c1a"/>
<circle cx="278.1" cy="389.3" r="22.4" fill="#d80c1a"/>
<circle cx="278.1" cy="389.3" r="16.1" fill="#fff"/>
<rect x="270.0" y="376.4" width="16.8" height="25.8" fill="#f1f4f6"/>
<circle cx="278.9" cy="389.6" r="7.3" fill="#f6f8f9" stroke="#b5d6ee" stroke-width="1.3"/>
<circle cx="277.1" cy="389.9" r="6.0" fill="#e5532b"/>
<circle cx="277.1" cy="389.9" r="4.4" fill="#396676"/>
<circle cx="277.5" cy="389.7" r="1.6" fill="#5d8b9b"/>
<path d="M277.3 399.7 h3.9 v2.6 l-0.8 2.9 h-2.2 l-0.8 -2.9 Z" fill="#161616"/>
<circle cx="434.8" cy="459.7" r="22.4" fill="#fff"/>
<path d="M426.2 479.3 L434.8 499.9 L443.4 479.3 Z" fill="#d80c1a" stroke="#fff" stroke-width="1.6" stroke-linejoin="round"/>
<circle cx="434.8" cy="459.7" r="21.4" fill="#d80c1a"/>
<circle cx="434.8" cy="459.7" r="19.0" fill="#fff"/>
<rect x="425.6" y="442.9" width="19.0" height="30.4" fill="#f1f4f6"/>
<circle cx="435.9" cy="456.9" r="9.9" fill="#f6f8f9" stroke="#b5d6ee" stroke-width="1.3"/>
<circle cx="433.4" cy="457.3" r="8.1" fill="#e5532b"/>
<circle cx="433.4" cy="457.3" r="5.9" fill="#396676"/>
<circle cx="434.0" cy="457.1" r="2.2" fill="#5d8b9b"/>
<path d="M433.7 470.6 h5.2 v3.6 l-1.1 3.9 h-3.0 l-1.1 -3.9 Z" fill="#161616"/>
<text class="lb" x="228.7" y="80.7" fill="#e60000">消防压力</text>
<text class="lb" x="285.8" y="78.9" fill="#e60000">、</text>
<text class="lb" x="249.3" y="95.5" fill="#e60000">液位</text>
<text class="lb" x="353.9" y="102.5" fill="#e60000">消防压力</text>
<text class="lb" x="411.0" y="100.7" fill="#e60000">、</text>
<text class="lb" x="374.5" y="117.3" fill="#e60000">液位</text>
<text class="lb" x="570.2" y="17.6" fill="#e60000">消防压力</text>
<text class="lb" x="627.3" y="15.8" fill="#e60000">、</text>
<text class="lb" x="590.8" y="32.4" fill="#e60000">液位</text>
<text class="lb" x="731.0" y="102.5" fill="#e60000">消防压力</text>
<text class="lb" x="788.1" y="100.7" fill="#e60000">、</text>
<text class="lb" x="751.6" y="117.3" fill="#e60000">液位</text>
<text class="lb" x="831.9" y="102.5" fill="#e60000">消防压力</text>
<text class="lb" x="889.0" y="100.7" fill="#e60000">、</text>
<text class="lb" x="852.5" y="117.3" fill="#e60000">液位</text>
<text class="lb" x="930.9" y="156.4" fill="#e60000">消防压力</text>
<text class="lb" x="988.0" y="154.6" fill="#e60000">、</text>
<text class="lb" x="951.5" y="171.2" fill="#e60000">液位</text>
<text class="lb" x="242.1" y="349.8" fill="#e60000">消防压力</text>
<text class="lb" x="299.2" y="348.0" fill="#e60000">、</text>
<text class="lb" x="262.7" y="364.6" fill="#e60000">液位</text>
<text class="lb" x="445.5" y="241.2" fill="#e60000" textLength="46.5" lengthAdjust="spacingAndGlyphs">NB-iot</text>
<text class="lb" x="492.4" y="241.2" fill="#e60000">压</text>
<text class="lb" x="448.8" y="255.7" fill="#e60000">力</text>
<text class="lb" x="464.2" y="255.7" fill="#e60000">、</text>
<text class="lb" x="475.6" y="255.7" fill="#e60000">液位</text>
<text class="lb" x="394.5" y="435.7" fill="#e60000">消防栓压力</text>
<text class="lb" x="318.0" y="324.0" fill="#000000">商业区</text>
<text class="lb" x="563.5" y="202.4" fill="#000000">住宅区</text>
<text class="lb" x="754.3" y="288.8" fill="#000000">工业区</text>
<text class="lb" x="456.0" y="416.5" fill="#000000">加油站</text>
<text class="lb" x="261.8" y="527.9" fill="#000000">医院</text>
<text class="lb" x="543.2" y="514.5" fill="#000000">消防局</text>
<text class="lb" x="414.9" y="564.2" fill="#1f5fa8">消防栓</text>
</svg>
</body></html>
